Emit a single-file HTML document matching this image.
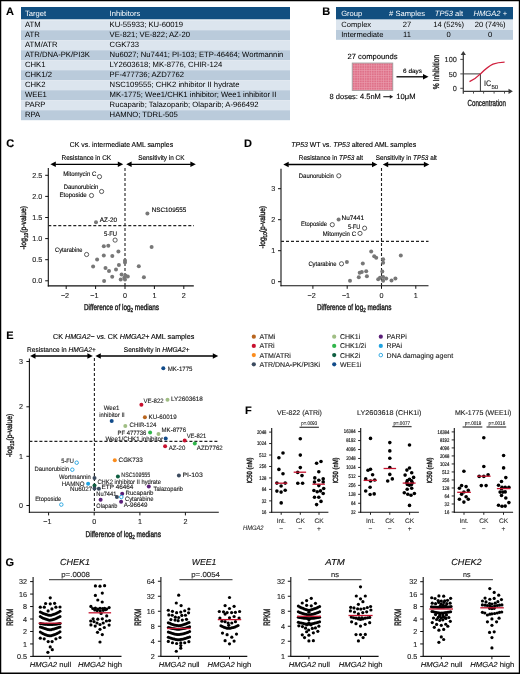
<!DOCTYPE html>
<html><head><meta charset="utf-8"><title>Figure</title>
<style>
html,body{margin:0;padding:0;background:#fff;}
body{width:520px;height:674px;overflow:hidden;}
svg{display:block;font-family:"Liberation Sans",sans-serif;will-change:transform;text-rendering:geometricPrecision;}
</style></head><body>
<svg width="520" height="674" viewBox="0 0 520 674">
<rect x="0" y="0" width="520" height="674" fill="#fff"/>
<text x="6.1" y="14.8" font-size="11" font-weight="bold" stroke="#000" stroke-width="0.12">A</text>
<rect x="21" y="7" width="269" height="12.3" fill="#124f80" />
<text x="25" y="15.7" font-size="7.6" fill="#fff">Target</text>
<text x="109.6" y="15.7" font-size="7.6" fill="#fff">Inhibitors</text>
<rect x="21" y="20.2" width="269" height="10" fill="#dce5ee" />
<text x="25" y="27.4" font-size="7.7">ATM</text>
<text x="109.6" y="27.4" font-size="7.7">KU-55933; KU-60019</text>
<rect x="21" y="30.2" width="269" height="10" fill="#bacbdb" />
<text x="25" y="37.4" font-size="7.7">ATR</text>
<text x="109.6" y="37.4" font-size="7.7">VE-821; VE-822; AZ-20</text>
<rect x="21" y="40.2" width="269" height="10" fill="#dce5ee" />
<text x="25" y="47.4" font-size="7.7">ATM/ATR</text>
<text x="109.6" y="47.4" font-size="7.7">CGK733</text>
<rect x="21" y="50.2" width="269" height="10" fill="#bacbdb" />
<text x="25" y="57.4" font-size="7.7">ATR/DNA-PK/PI3K</text>
<text x="109.6" y="57.4" font-size="7.7">Nu6027; Nu7441; PI-103; ETP-46464; Wortmannin</text>
<rect x="21" y="60.2" width="269" height="10" fill="#dce5ee" />
<text x="25" y="67.4" font-size="7.7">CHK1</text>
<text x="109.6" y="67.4" font-size="7.7">LY2603618; MK-8776, CHIR-124</text>
<rect x="21" y="70.2" width="269" height="10" fill="#bacbdb" />
<text x="25" y="77.4" font-size="7.7">CHK1/2</text>
<text x="109.6" y="77.4" font-size="7.7">PF-477736; AZD7762</text>
<rect x="21" y="80.2" width="269" height="10" fill="#dce5ee" />
<text x="25" y="87.4" font-size="7.7">CHK2</text>
<text x="109.6" y="87.4" font-size="7.7">NSC109555; CHK2 inhibitor II hydrate</text>
<rect x="21" y="90.2" width="269" height="10" fill="#bacbdb" />
<text x="25" y="97.4" font-size="7.7">WEE1</text>
<text x="109.6" y="97.4" font-size="7.7">MK-1775; Wee1/CHK1 inhibitor; Wee1 inhibitor II</text>
<rect x="21" y="100.2" width="269" height="10" fill="#dce5ee" />
<text x="25" y="107.4" font-size="7.7">PARP</text>
<text x="109.6" y="107.4" font-size="7.7">Rucaparib; Talazoparib; Olaparib; A-966492</text>
<rect x="21" y="110.2" width="269" height="10" fill="#bacbdb" />
<text x="25" y="117.4" font-size="7.7">RPA</text>
<text x="109.6" y="117.4" font-size="7.7">HAMNO; TDRL-505</text>
<text x="322.2" y="14.9" font-size="11" font-weight="bold" stroke="#000" stroke-width="0.12">B</text>
<rect x="336" y="7" width="177" height="12.4" fill="#124f80" />
<rect x="336" y="20" width="177" height="10" fill="#dce5ee" />
<rect x="336" y="30" width="177" height="9.8" fill="#bacbdb" />
<text x="341.2" y="15.7" font-size="7.6" fill="#fff">Group</text>
<text x="407" y="15.7" font-size="7.6" text-anchor="middle" fill="#fff"># Samples</text>
<text x="449" y="15.7" font-size="7.6" text-anchor="middle" fill="#fff"><tspan font-style="italic">TP53</tspan><tspan> alt</tspan></text>
<text x="490.3" y="15.7" font-size="7.6" text-anchor="middle" fill="#fff"><tspan font-style="italic">HMGA2</tspan><tspan> +</tspan></text>
<text x="341.2" y="26.9" font-size="7.6">Complex</text>
<text x="407" y="26.9" font-size="7.6" text-anchor="middle">27</text>
<text x="448.6" y="26.9" font-size="7.6" text-anchor="middle">14 (52%)</text>
<text x="490.2" y="26.9" font-size="7.6" text-anchor="middle">20 (74%)</text>
<text x="341.2" y="36.9" font-size="7.6">Intermediate</text>
<text x="407" y="36.9" font-size="7.6" text-anchor="middle">11</text>
<text x="448.6" y="36.9" font-size="7.6" text-anchor="middle">0</text>
<text x="490.2" y="36.9" font-size="7.6" text-anchor="middle">0</text>
<text x="372.5" y="59.4" font-size="7.6" text-anchor="middle" textLength="50" lengthAdjust="spacingAndGlyphs" stroke="#000" stroke-width="0.12">27 compounds</text>
<defs><pattern id="grid" x="352" y="63" width="2.4" height="2.4" patternUnits="userSpaceOnUse"><rect width="2.4" height="2.4" fill="#df7189"/><path d="M0 0.3H2.4M0.3 0V2.4" stroke="#ec9fb0" stroke-width="0.6"/></pattern></defs>
<rect x="352.2" y="63" width="40.6" height="27.4" fill="url(#grid)" stroke="#9a9a9a" stroke-width="0.8"/>
<text x="329.6" y="99" font-size="7.5" textLength="51.2" lengthAdjust="spacingAndGlyphs" stroke="#000" stroke-width="0.12">8 doses: 4.5nM</text>
<line x1="383.3" y1="96.7" x2="390.5" y2="96.7" stroke="#222" stroke-width="1.1"/>
<path d="M393.2 96.7L389.8 94.7L389.8 98.7Z" fill="#222"/>
<text x="396.3" y="99" font-size="7.5" textLength="19.2" lengthAdjust="spacingAndGlyphs" stroke="#000" stroke-width="0.12">10μM</text>
<line x1="396.5" y1="76.8" x2="424" y2="76.8" stroke="#000" stroke-width="1.3"/>
<path d="M428.5 76.8L423 74L423 79.6Z" fill="#000"/>
<text x="412.5" y="73.3" font-size="6.2" text-anchor="middle" textLength="19" lengthAdjust="spacingAndGlyphs" stroke="#000" stroke-width="0.12">6 days</text>
<text x="439" y="72" font-size="8.6" text-anchor="middle" fill="#222" textLength="34.3" lengthAdjust="spacingAndGlyphs" transform="rotate(-90 439 72)" stroke="#222" stroke-width="0.35">% Inhibition</text>
<line x1="463.3" y1="54" x2="463.3" y2="93.7" stroke="#3a3a3a" stroke-width="1.25"/>
<path d="M463.3 51L460.7 55L465.9 55Z" fill="#3a3a3a"/>
<line x1="463.3" y1="91.3" x2="509" y2="91.3" stroke="#3a3a3a" stroke-width="1.25"/>
<path d="M512.9 91.3L508.5 88.7L508.5 93.9Z" fill="#3a3a3a"/>
<line x1="460.3" y1="59.4" x2="463.3" y2="59.4" stroke="#3a3a3a" stroke-width="0.9"/>
<line x1="460.3" y1="73.9" x2="463.3" y2="73.9" stroke="#3a3a3a" stroke-width="0.9"/>
<line x1="460.3" y1="88.3" x2="463.3" y2="88.3" stroke="#3a3a3a" stroke-width="0.9"/>
<line x1="473.5" y1="91.3" x2="473.5" y2="93.6" stroke="#3a3a3a" stroke-width="0.9"/>
<line x1="483.6" y1="91.3" x2="483.6" y2="93.6" stroke="#3a3a3a" stroke-width="0.9"/>
<line x1="494.1" y1="91.3" x2="494.1" y2="93.6" stroke="#3a3a3a" stroke-width="0.9"/>
<line x1="504.5" y1="91.3" x2="504.5" y2="93.6" stroke="#3a3a3a" stroke-width="0.9"/>
<text x="456.8" y="62" font-size="7.3" text-anchor="end" fill="#222" stroke="#222" stroke-width="0.12">100</text>
<text x="456.8" y="76.5" font-size="7.3" text-anchor="end" fill="#222" stroke="#222" stroke-width="0.12">50</text>
<text x="456.8" y="90.9" font-size="7.3" text-anchor="end" fill="#222" stroke="#222" stroke-width="0.12">0</text>
<line x1="463.3" y1="73.9" x2="480.4" y2="73.9" stroke="#3a3a3a" stroke-width="1"/>
<line x1="480.4" y1="73.9" x2="480.4" y2="91.3" stroke="#3a3a3a" stroke-width="1"/>
<path d="M469.5 81.7 C473.5 79.8 477.2 77.2 480.4 73.9 C485 69.5 489 66 493 64.2 C497 62.6 501 62.2 504.6 62.1" fill="none" stroke="#d0203e" stroke-width="1.35"/>
<text x="484" y="85.9" font-size="8" fill="#222" textLength="7.2" lengthAdjust="spacingAndGlyphs" stroke="#222" stroke-width="0.12">IC</text>
<text x="491.4" y="88.9" font-size="5.8" fill="#222" textLength="6.9" lengthAdjust="spacingAndGlyphs" stroke="#222" stroke-width="0.12">50</text>
<text x="486.7" y="106.2" font-size="8.8" text-anchor="middle" fill="#222" textLength="38.4" lengthAdjust="spacingAndGlyphs" stroke="#222" stroke-width="0.35">Concentration</text>
<text x="6.2" y="147.2" font-size="11" font-weight="bold" stroke="#000" stroke-width="0.12">C</text>
<text x="69.8" y="147.1" font-size="7.2" textLength="103.3" lengthAdjust="spacingAndGlyphs" stroke="#000" stroke-width="0.12">CK vs. intermediate AML samples</text>
<text x="61.6" y="159.5" font-size="6.8" textLength="49.6" lengthAdjust="spacingAndGlyphs" stroke="#000" stroke-width="0.12">Resistance in CK</text>
<text x="138.2" y="159.5" font-size="6.8" textLength="46.3" lengthAdjust="spacingAndGlyphs" stroke="#000" stroke-width="0.12">Sensitivity in CK</text>
<line x1="55.3" y1="164.3" x2="118.3" y2="164.3" stroke="#000" stroke-width="1.3"/>
<path d="M50.4 164.3L55.8 161.6L55.8 167Z" fill="#000"/>
<path d="M123.2 164.3L117.8 161.6L117.8 167Z" fill="#000"/>
<line x1="131.1" y1="164.3" x2="190.9" y2="164.3" stroke="#000" stroke-width="1.3"/>
<path d="M126.2 164.3L131.6 161.6L131.6 167Z" fill="#000"/>
<path d="M195.8 164.3L190.4 161.6L190.4 167Z" fill="#000"/>
<line x1="48.3" y1="168" x2="48.3" y2="286.5" stroke="#111" stroke-width="1.1"/>
<line x1="47.8" y1="285.9" x2="193.8" y2="285.9" stroke="#111" stroke-width="1.1"/>
<line x1="45.2" y1="280.8" x2="48.3" y2="280.8" stroke="#111" stroke-width="1"/>
<text x="42.2" y="283.4" font-size="7.2" text-anchor="end" fill="#222" stroke="#222" stroke-width="0.12">0.0</text>
<line x1="45.2" y1="259.7" x2="48.3" y2="259.7" stroke="#111" stroke-width="1"/>
<text x="42.2" y="262.3" font-size="7.2" text-anchor="end" fill="#222" stroke="#222" stroke-width="0.12">0.5</text>
<line x1="45.2" y1="238.6" x2="48.3" y2="238.6" stroke="#111" stroke-width="1"/>
<text x="42.2" y="241.2" font-size="7.2" text-anchor="end" fill="#222" stroke="#222" stroke-width="0.12">1.0</text>
<line x1="45.2" y1="217.5" x2="48.3" y2="217.5" stroke="#111" stroke-width="1"/>
<text x="42.2" y="220.1" font-size="7.2" text-anchor="end" fill="#222" stroke="#222" stroke-width="0.12">1.5</text>
<line x1="45.2" y1="196.4" x2="48.3" y2="196.4" stroke="#111" stroke-width="1"/>
<text x="42.2" y="199" font-size="7.2" text-anchor="end" fill="#222" stroke="#222" stroke-width="0.12">2.0</text>
<line x1="45.2" y1="175.3" x2="48.3" y2="175.3" stroke="#111" stroke-width="1"/>
<text x="42.2" y="177.9" font-size="7.2" text-anchor="end" fill="#222" stroke="#222" stroke-width="0.12">2.5</text>
<line x1="66.2" y1="285.9" x2="66.2" y2="289" stroke="#111" stroke-width="1"/>
<text x="65" y="298.2" font-size="7.2" text-anchor="middle" fill="#222" stroke="#222" stroke-width="0.12">−2</text>
<line x1="95.6" y1="285.9" x2="95.6" y2="289" stroke="#111" stroke-width="1"/>
<text x="94.4" y="298.2" font-size="7.2" text-anchor="middle" fill="#222" stroke="#222" stroke-width="0.12">−1</text>
<line x1="125" y1="285.9" x2="125" y2="289" stroke="#111" stroke-width="1"/>
<text x="125" y="298.2" font-size="7.2" text-anchor="middle" fill="#222" stroke="#222" stroke-width="0.12">0</text>
<line x1="154.4" y1="285.9" x2="154.4" y2="289" stroke="#111" stroke-width="1"/>
<text x="154.4" y="298.2" font-size="7.2" text-anchor="middle" fill="#222" stroke="#222" stroke-width="0.12">1</text>
<line x1="183.8" y1="285.9" x2="183.8" y2="289" stroke="#111" stroke-width="1"/>
<text x="183.8" y="298.2" font-size="7.2" text-anchor="middle" fill="#222" stroke="#222" stroke-width="0.12">2</text>
<text x="84" y="309.8" font-size="8.4" fill="#222" textLength="75" lengthAdjust="spacingAndGlyphs" stroke="#222" stroke-width="0.4"><tspan>Difference of log</tspan><tspan font-size="5.88" dy="2.1">2</tspan><tspan dy="-2.1"> medians</tspan></text>
<text x="26.5" y="227.7" font-size="8" text-anchor="middle" fill="#222" textLength="43.4" lengthAdjust="spacingAndGlyphs" transform="rotate(-90 26.5 227.7)" stroke="#222" stroke-width="0.4"><tspan>-log</tspan><tspan font-size="5.6" dy="2">10</tspan><tspan dy="-2">(p-value)</tspan></text>
<line x1="125" y1="168" x2="125" y2="285.9" stroke="#222" stroke-width="1.1" stroke-dasharray="3,2"/>
<line x1="48.3" y1="225.6" x2="194" y2="225.6" stroke="#222" stroke-width="1.1" stroke-dasharray="3,2"/>
<circle cx="103.8" cy="246.2" r="2" fill="#777"/>
<circle cx="108.3" cy="245.8" r="2" fill="#777"/>
<circle cx="151.6" cy="247.1" r="2" fill="#777"/>
<circle cx="118.4" cy="251.4" r="2" fill="#777"/>
<circle cx="103.8" cy="255.6" r="2" fill="#777"/>
<circle cx="112.3" cy="255.9" r="2" fill="#777"/>
<circle cx="97.1" cy="259.5" r="2" fill="#777"/>
<circle cx="125" cy="260.6" r="2" fill="#777"/>
<circle cx="125" cy="262.6" r="2" fill="#777"/>
<circle cx="93.1" cy="266.6" r="2" fill="#777"/>
<circle cx="118.9" cy="264.9" r="2" fill="#777"/>
<circle cx="138.8" cy="266.2" r="2" fill="#777"/>
<circle cx="105.5" cy="268" r="2" fill="#777"/>
<circle cx="109" cy="270.9" r="2" fill="#777"/>
<circle cx="116" cy="269.5" r="2" fill="#777"/>
<circle cx="121.6" cy="274.4" r="2" fill="#777"/>
<circle cx="112.2" cy="276.7" r="2" fill="#777"/>
<circle cx="127.8" cy="276.5" r="2" fill="#777"/>
<circle cx="124.3" cy="277.8" r="2" fill="#777"/>
<circle cx="143.9" cy="277.3" r="2" fill="#777"/>
<circle cx="120.7" cy="279.4" r="2" fill="#777"/>
<circle cx="125" cy="279.4" r="2" fill="#777"/>
<circle cx="104.1" cy="281" r="2" fill="#777"/>
<circle cx="125.4" cy="275.4" r="2" fill="#777"/>
<circle cx="147.4" cy="213.4" r="2" fill="#777"/>
<circle cx="96" cy="222.3" r="2" fill="#777"/>
<circle cx="99.5" cy="176.7" r="2.1" fill="#fff" stroke="#333" stroke-width="0.8"/>
<circle cx="101.6" cy="191.5" r="2.1" fill="#fff" stroke="#333" stroke-width="0.8"/>
<circle cx="91.5" cy="195.5" r="2.1" fill="#fff" stroke="#333" stroke-width="0.8"/>
<circle cx="115.1" cy="240.1" r="2.1" fill="#fff" stroke="#333" stroke-width="0.8"/>
<circle cx="86.6" cy="254.5" r="2.1" fill="#fff" stroke="#333" stroke-width="0.8"/>
<text x="63.2" y="175.5" font-size="6.4" textLength="33.1" lengthAdjust="spacingAndGlyphs" stroke="#000" stroke-width="0.12">Mitomycin C</text>
<text x="63.7" y="189" font-size="6.4" textLength="34.7" lengthAdjust="spacingAndGlyphs" stroke="#000" stroke-width="0.12">Daunorubicin</text>
<text x="59.4" y="197.3" font-size="6.4" textLength="27.4" lengthAdjust="spacingAndGlyphs" stroke="#000" stroke-width="0.12">Etoposide</text>
<text x="151.7" y="212.1" font-size="6.4" textLength="34.6" lengthAdjust="spacingAndGlyphs" stroke="#000" stroke-width="0.12">NSC109555</text>
<text x="99.8" y="221.6" font-size="6.4" textLength="17.3" lengthAdjust="spacingAndGlyphs" stroke="#000" stroke-width="0.12">AZ-20</text>
<text x="104.1" y="235.8" font-size="6.4" textLength="13" lengthAdjust="spacingAndGlyphs" stroke="#000" stroke-width="0.12">5-FU</text>
<text x="55.1" y="252.2" font-size="6.4" textLength="27.4" lengthAdjust="spacingAndGlyphs" stroke="#000" stroke-width="0.12">Cytarabine</text>
<text x="244.1" y="146.6" font-size="11" font-weight="bold" stroke="#000" stroke-width="0.12">D</text>
<text x="291.3" y="147.3" font-size="7.2" textLength="124.9" lengthAdjust="spacingAndGlyphs" stroke="#000" stroke-width="0.12"><tspan font-style="italic">TP53</tspan><tspan> WT vs. </tspan><tspan font-style="italic">TP53</tspan><tspan> altered AML samples</tspan></text>
<text x="298.8" y="159.5" font-size="6.8" textLength="64.2" lengthAdjust="spacingAndGlyphs" stroke="#000" stroke-width="0.12"><tspan>Resistance in </tspan><tspan font-style="italic">TP53</tspan><tspan> alt</tspan></text>
<text x="375.8" y="159.5" font-size="6.8" textLength="61.1" lengthAdjust="spacingAndGlyphs" stroke="#000" stroke-width="0.12"><tspan>Sensitivity in </tspan><tspan font-style="italic">TP53</tspan><tspan> alt</tspan></text>
<line x1="288.2" y1="164.5" x2="372.5" y2="164.5" stroke="#000" stroke-width="1.3"/>
<path d="M283.3 164.5L288.7 161.8L288.7 167.2Z" fill="#000"/>
<path d="M377.4 164.5L372 161.8L372 167.2Z" fill="#000"/>
<line x1="387.7" y1="164.5" x2="424.4" y2="164.5" stroke="#000" stroke-width="1.3"/>
<path d="M382.8 164.5L388.2 161.8L388.2 167.2Z" fill="#000"/>
<path d="M429.3 164.5L423.9 161.8L423.9 167.2Z" fill="#000"/>
<line x1="281" y1="168.7" x2="281" y2="286.3" stroke="#111" stroke-width="1.1"/>
<line x1="280.5" y1="285.7" x2="428.5" y2="285.7" stroke="#111" stroke-width="1.1"/>
<line x1="278" y1="281.7" x2="281" y2="281.7" stroke="#111" stroke-width="1"/>
<text x="275.2" y="284.3" font-size="7.2" text-anchor="end" fill="#222" stroke="#222" stroke-width="0.12">0</text>
<line x1="278" y1="250.7" x2="281" y2="250.7" stroke="#111" stroke-width="1"/>
<text x="275.2" y="253.3" font-size="7.2" text-anchor="end" fill="#222" stroke="#222" stroke-width="0.12">1</text>
<line x1="278" y1="219.7" x2="281" y2="219.7" stroke="#111" stroke-width="1"/>
<text x="275.2" y="222.3" font-size="7.2" text-anchor="end" fill="#222" stroke="#222" stroke-width="0.12">2</text>
<line x1="278" y1="188.7" x2="281" y2="188.7" stroke="#111" stroke-width="1"/>
<text x="275.2" y="191.3" font-size="7.2" text-anchor="end" fill="#222" stroke="#222" stroke-width="0.12">3</text>
<line x1="312.9" y1="285.7" x2="312.9" y2="288.8" stroke="#111" stroke-width="1"/>
<text x="311.7" y="298.2" font-size="7.2" text-anchor="middle" fill="#222" stroke="#222" stroke-width="0.12">−2</text>
<line x1="347.2" y1="285.7" x2="347.2" y2="288.8" stroke="#111" stroke-width="1"/>
<text x="346" y="298.2" font-size="7.2" text-anchor="middle" fill="#222" stroke="#222" stroke-width="0.12">−1</text>
<line x1="381.5" y1="285.7" x2="381.5" y2="288.8" stroke="#111" stroke-width="1"/>
<text x="381.5" y="298.2" font-size="7.2" text-anchor="middle" fill="#222" stroke="#222" stroke-width="0.12">0</text>
<line x1="415.8" y1="285.7" x2="415.8" y2="288.8" stroke="#111" stroke-width="1"/>
<text x="415.8" y="298.2" font-size="7.2" text-anchor="middle" fill="#222" stroke="#222" stroke-width="0.12">1</text>
<text x="317" y="309.8" font-size="8.4" fill="#222" textLength="74.5" lengthAdjust="spacingAndGlyphs" stroke="#222" stroke-width="0.4"><tspan>Difference of log</tspan><tspan font-size="5.88" dy="2.1">2</tspan><tspan dy="-2.1"> medians</tspan></text>
<text x="264.6" y="227.2" font-size="8" text-anchor="middle" fill="#222" textLength="42.6" lengthAdjust="spacingAndGlyphs" transform="rotate(-90 264.6 227.2)" stroke="#222" stroke-width="0.4"><tspan>-log</tspan><tspan font-size="5.6" dy="2">10</tspan><tspan dy="-2">(p-value)</tspan></text>
<line x1="381.5" y1="168" x2="381.5" y2="285.7" stroke="#222" stroke-width="1.1" stroke-dasharray="3,2"/>
<line x1="281" y1="241.4" x2="428.5" y2="241.4" stroke="#222" stroke-width="1.1" stroke-dasharray="3,2"/>
<circle cx="338.6" cy="219.5" r="2" fill="#777"/>
<circle cx="371.2" cy="251.5" r="2" fill="#777"/>
<circle cx="374.2" cy="256.2" r="2" fill="#777"/>
<circle cx="376.2" cy="257.7" r="2" fill="#777"/>
<circle cx="383.1" cy="259.2" r="2" fill="#777"/>
<circle cx="383.1" cy="262.8" r="2" fill="#777"/>
<circle cx="362.8" cy="263.5" r="2" fill="#777"/>
<circle cx="346.9" cy="262" r="2" fill="#777"/>
<circle cx="359.7" cy="272.8" r="2" fill="#777"/>
<circle cx="361.8" cy="272" r="2" fill="#777"/>
<circle cx="366.2" cy="271.2" r="2" fill="#777"/>
<circle cx="358.8" cy="277.2" r="2" fill="#777"/>
<circle cx="366.9" cy="276.2" r="2" fill="#777"/>
<circle cx="350" cy="280.8" r="2" fill="#777"/>
<circle cx="382.3" cy="271.5" r="2" fill="#777"/>
<circle cx="378.2" cy="279.2" r="2" fill="#777"/>
<circle cx="380" cy="277.7" r="2" fill="#777"/>
<circle cx="383.1" cy="276.9" r="2" fill="#777"/>
<circle cx="383.1" cy="280.8" r="2" fill="#777"/>
<circle cx="386.2" cy="278.5" r="2" fill="#777"/>
<circle cx="391.5" cy="280.5" r="2" fill="#777"/>
<circle cx="395.4" cy="278.5" r="2" fill="#777"/>
<circle cx="400.8" cy="255.4" r="2" fill="#777"/>
<circle cx="338.8" cy="175.8" r="2.1" fill="#fff" stroke="#333" stroke-width="0.8"/>
<circle cx="332.3" cy="224.7" r="2.1" fill="#fff" stroke="#333" stroke-width="0.8"/>
<circle cx="364.6" cy="228.2" r="2.1" fill="#fff" stroke="#333" stroke-width="0.8"/>
<circle cx="360" cy="233.4" r="2.1" fill="#fff" stroke="#333" stroke-width="0.8"/>
<circle cx="341.5" cy="263.8" r="2.1" fill="#fff" stroke="#333" stroke-width="0.8"/>
<text x="298.8" y="178.4" font-size="6.4" textLength="35" lengthAdjust="spacingAndGlyphs" stroke="#000" stroke-width="0.12">Daunorubicin</text>
<text x="341.5" y="219.5" font-size="6.4" textLength="22.5" lengthAdjust="spacingAndGlyphs" stroke="#000" stroke-width="0.12">Nu7441</text>
<text x="301.1" y="226.4" font-size="6.4" textLength="26" lengthAdjust="spacingAndGlyphs" stroke="#000" stroke-width="0.12">Etoposide</text>
<text x="347.9" y="229" font-size="6.4" textLength="12.4" lengthAdjust="spacingAndGlyphs" stroke="#000" stroke-width="0.12">5-FU</text>
<text x="322.8" y="236" font-size="6.4" textLength="33.2" lengthAdjust="spacingAndGlyphs" stroke="#000" stroke-width="0.12">Mitomycin C</text>
<text x="308.4" y="265.6" font-size="6.4" textLength="28.2" lengthAdjust="spacingAndGlyphs" stroke="#000" stroke-width="0.12">Cytarabine</text>
<text x="6.2" y="338.8" font-size="11" font-weight="bold" stroke="#000" stroke-width="0.12">E</text>
<text x="53" y="338.6" font-size="7.2" textLength="141.3" lengthAdjust="spacingAndGlyphs" stroke="#000" stroke-width="0.12"><tspan>CK </tspan><tspan font-style="italic">HMGA2</tspan><tspan>− vs. CK </tspan><tspan font-style="italic">HMGA2</tspan><tspan>+ AML samples</tspan></text>
<text x="27" y="352.4" font-size="6.8" textLength="68.8" lengthAdjust="spacingAndGlyphs" stroke="#000" stroke-width="0.12"><tspan>Resistance in </tspan><tspan font-style="italic">HMGA2</tspan><tspan>+</tspan></text>
<text x="123.8" y="352.4" font-size="6.8" textLength="65.7" lengthAdjust="spacingAndGlyphs" stroke="#000" stroke-width="0.12"><tspan>Sensitivity in </tspan><tspan font-style="italic">HMGA2</tspan><tspan>+</tspan></text>
<line x1="35" y1="356" x2="87.9" y2="356" stroke="#000" stroke-width="1.3"/>
<path d="M30.1 356L35.5 353.3L35.5 358.7Z" fill="#000"/>
<path d="M92.8 356L87.4 353.3L87.4 358.7Z" fill="#000"/>
<line x1="100.3" y1="356" x2="213.3" y2="356" stroke="#000" stroke-width="1.3"/>
<path d="M95.4 356L100.8 353.3L100.8 358.7Z" fill="#000"/>
<path d="M218.2 356L212.8 353.3L212.8 358.7Z" fill="#000"/>
<line x1="29.4" y1="358.4" x2="29.4" y2="512.9" stroke="#111" stroke-width="1.1"/>
<line x1="28.9" y1="512.3" x2="218.8" y2="512.3" stroke="#111" stroke-width="1.1"/>
<line x1="26.4" y1="505.5" x2="29.4" y2="505.5" stroke="#111" stroke-width="1"/>
<text x="23" y="508.1" font-size="7.2" text-anchor="end" fill="#222" stroke="#222" stroke-width="0.12">0</text>
<line x1="26.4" y1="456.3" x2="29.4" y2="456.3" stroke="#111" stroke-width="1"/>
<text x="23" y="458.9" font-size="7.2" text-anchor="end" fill="#222" stroke="#222" stroke-width="0.12">1</text>
<line x1="26.4" y1="406.8" x2="29.4" y2="406.8" stroke="#111" stroke-width="1"/>
<text x="23" y="409.4" font-size="7.2" text-anchor="end" fill="#222" stroke="#222" stroke-width="0.12">2</text>
<line x1="26.4" y1="361.5" x2="29.4" y2="361.5" stroke="#111" stroke-width="1"/>
<text x="23" y="364.1" font-size="7.2" text-anchor="end" fill="#222" stroke="#222" stroke-width="0.12">3</text>
<line x1="48.6" y1="512.3" x2="48.6" y2="515.4" stroke="#111" stroke-width="1"/>
<text x="47.4" y="524.3" font-size="7.2" text-anchor="middle" fill="#222" stroke="#222" stroke-width="0.12">−1</text>
<line x1="94.2" y1="512.3" x2="94.2" y2="515.4" stroke="#111" stroke-width="1"/>
<text x="94.2" y="524.3" font-size="7.2" text-anchor="middle" fill="#222" stroke="#222" stroke-width="0.12">0</text>
<line x1="139.9" y1="512.3" x2="139.9" y2="515.4" stroke="#111" stroke-width="1"/>
<text x="139.9" y="524.3" font-size="7.2" text-anchor="middle" fill="#222" stroke="#222" stroke-width="0.12">1</text>
<line x1="185.4" y1="512.3" x2="185.4" y2="515.4" stroke="#111" stroke-width="1"/>
<text x="185.4" y="524.3" font-size="7.2" text-anchor="middle" fill="#222" stroke="#222" stroke-width="0.12">2</text>
<text x="85.6" y="536.8" font-size="8.4" fill="#222" textLength="75.3" lengthAdjust="spacingAndGlyphs" stroke="#222" stroke-width="0.4"><tspan>Difference of log</tspan><tspan font-size="5.88" dy="2.1">2</tspan><tspan dy="-2.1"> medians</tspan></text>
<text x="11.8" y="435.5" font-size="8" text-anchor="middle" fill="#222" textLength="43.4" lengthAdjust="spacingAndGlyphs" transform="rotate(-90 11.8 435.5)" stroke="#222" stroke-width="0.4"><tspan>-log</tspan><tspan font-size="5.6" dy="2">10</tspan><tspan dy="-2">(p-value)</tspan></text>
<line x1="94.4" y1="358" x2="94.4" y2="512.3" stroke="#222" stroke-width="1.1" stroke-dasharray="3,2"/>
<line x1="29.4" y1="441.4" x2="218.8" y2="441.4" stroke="#222" stroke-width="1.1" stroke-dasharray="3,2"/>
<circle cx="163.3" cy="368.3" r="2" fill="#114b8a"/>
<circle cx="141.4" cy="404.8" r="2" fill="#c8102e"/>
<circle cx="167.5" cy="399.8" r="2" fill="#a0be84"/>
<circle cx="111.7" cy="421" r="2" fill="#114b8a"/>
<circle cx="144.9" cy="417.2" r="2" fill="#b8651e"/>
<circle cx="125.3" cy="426.1" r="2" fill="#a0be84"/>
<circle cx="150.1" cy="432.5" r="2" fill="#30b64b"/>
<circle cx="158.5" cy="433.9" r="2" fill="#a0be84"/>
<circle cx="165.7" cy="438.6" r="2" fill="#114b8a"/>
<circle cx="184.7" cy="440.6" r="2" fill="#c8102e"/>
<circle cx="194.8" cy="443.5" r="2" fill="#30b64b"/>
<circle cx="165.1" cy="446.3" r="2" fill="#c8102e"/>
<circle cx="114.8" cy="460.2" r="2" fill="#fb8c1c"/>
<circle cx="117.9" cy="476.4" r="2" fill="#0e5e40"/>
<circle cx="178.9" cy="475.4" r="2" fill="#3b4a5e"/>
<circle cx="76.7" cy="462.7" r="1.75" fill="#fff" stroke="#1fa2e0" stroke-width="0.9"/>
<circle cx="72.3" cy="469.7" r="1.75" fill="#fff" stroke="#1fa2e0" stroke-width="0.9"/>
<circle cx="94.5" cy="478.1" r="2" fill="#3b4a5e"/>
<circle cx="88.1" cy="483.8" r="2" fill="#1fa2e0"/>
<circle cx="94.5" cy="485.6" r="2" fill="#0e5e40"/>
<circle cx="94.5" cy="488.4" r="2" fill="#3b4a5e"/>
<circle cx="98.9" cy="488.7" r="2" fill="#3b4a5e"/>
<circle cx="148.8" cy="486.4" r="2" fill="#5a1e78"/>
<circle cx="122.2" cy="493.8" r="2" fill="#5a1e78"/>
<circle cx="116.9" cy="497" r="2" fill="#3b4a5e"/>
<circle cx="121.3" cy="497" r="1.75" fill="#fff" stroke="#1fa2e0" stroke-width="0.9"/>
<circle cx="100.6" cy="499.7" r="2" fill="#5a1e78"/>
<circle cx="121.1" cy="501.8" r="2" fill="#5a1e78"/>
<circle cx="61.3" cy="504.6" r="1.75" fill="#fff" stroke="#1fa2e0" stroke-width="0.9"/>
<text x="167.7" y="370.5" font-size="6.3" fill="#222" textLength="24.8" lengthAdjust="spacingAndGlyphs" stroke="#222" stroke-width="0.12">MK-1775</text>
<text x="143.5" y="403" font-size="6.3" fill="#222" textLength="20.1" lengthAdjust="spacingAndGlyphs" stroke="#222" stroke-width="0.12">VE-822</text>
<text x="170.9" y="401.1" font-size="6.3" fill="#222" textLength="32" lengthAdjust="spacingAndGlyphs" stroke="#222" stroke-width="0.12">LY2603618</text>
<text x="148.6" y="419.4" font-size="6.3" fill="#222" textLength="28" lengthAdjust="spacingAndGlyphs" stroke="#222" stroke-width="0.12">KU-60019</text>
<text x="129.6" y="427" font-size="6.3" fill="#222" textLength="26.8" lengthAdjust="spacingAndGlyphs" stroke="#222" stroke-width="0.12">CHIR-124</text>
<text x="117.5" y="434.8" font-size="6.3" fill="#222" textLength="28.8" lengthAdjust="spacingAndGlyphs" stroke="#222" stroke-width="0.12">PF 477736</text>
<text x="161.6" y="431.9" font-size="6.3" fill="#222" textLength="24.5" lengthAdjust="spacingAndGlyphs" stroke="#222" stroke-width="0.12">MK-8776</text>
<text x="105.4" y="440.6" font-size="6.3" fill="#222" textLength="57.7" lengthAdjust="spacingAndGlyphs" stroke="#222" stroke-width="0.12">Wee1/CHK1 inhibitor</text>
<text x="186.7" y="438.3" font-size="6.3" fill="#222" textLength="19.6" lengthAdjust="spacingAndGlyphs" stroke="#222" stroke-width="0.12">VE-821</text>
<text x="196.8" y="450" font-size="6.3" fill="#222" textLength="26" lengthAdjust="spacingAndGlyphs" stroke="#222" stroke-width="0.12">AZD7762</text>
<text x="168.8" y="449.5" font-size="6.3" fill="#222" textLength="16.5" lengthAdjust="spacingAndGlyphs" stroke="#222" stroke-width="0.12">AZ-20</text>
<text x="118.6" y="461.8" font-size="6.3" fill="#222" textLength="24.3" lengthAdjust="spacingAndGlyphs" stroke="#222" stroke-width="0.12">CGK733</text>
<text x="121.3" y="477" font-size="6.3" fill="#222" textLength="29" lengthAdjust="spacingAndGlyphs" stroke="#222" stroke-width="0.12">NSC109555</text>
<text x="182.4" y="477.3" font-size="6.3" fill="#222" textLength="20.4" lengthAdjust="spacingAndGlyphs" stroke="#222" stroke-width="0.12">PI-103</text>
<text x="61.3" y="462.9" font-size="6.3" fill="#222" textLength="12.6" lengthAdjust="spacingAndGlyphs" stroke="#222" stroke-width="0.12">5-FU</text>
<text x="34.4" y="471.3" font-size="6.3" fill="#222" textLength="34.7" lengthAdjust="spacingAndGlyphs" stroke="#222" stroke-width="0.12">Daunorubicin</text>
<text x="59.1" y="479.2" font-size="6.3" fill="#222" textLength="31.8" lengthAdjust="spacingAndGlyphs" stroke="#222" stroke-width="0.12">Wortmannin</text>
<text x="61.7" y="485.5" font-size="6.3" fill="#222" textLength="22.8" lengthAdjust="spacingAndGlyphs" stroke="#222" stroke-width="0.12">HAMNO</text>
<text x="97.4" y="484" font-size="6.3" fill="#222" textLength="63.5" lengthAdjust="spacingAndGlyphs" stroke="#222" stroke-width="0.12">CHK2 inhibitor II hydrate</text>
<text x="70.1" y="491.4" font-size="6.3" fill="#222" textLength="22.2" lengthAdjust="spacingAndGlyphs" stroke="#222" stroke-width="0.12">Nu6027</text>
<text x="101.6" y="489.3" font-size="6.3" fill="#222" textLength="31.8" lengthAdjust="spacingAndGlyphs" stroke="#222" stroke-width="0.12">ETP 46464</text>
<text x="153.5" y="490.8" font-size="6.3" fill="#222" textLength="29.6" lengthAdjust="spacingAndGlyphs" stroke="#222" stroke-width="0.12">Talazoparib</text>
<text x="125.5" y="494.6" font-size="6.3" fill="#222" textLength="28" lengthAdjust="spacingAndGlyphs" stroke="#222" stroke-width="0.12">Rucaparib</text>
<text x="96.3" y="495.7" font-size="6.3" fill="#222" textLength="20.1" lengthAdjust="spacingAndGlyphs" stroke="#222" stroke-width="0.12">Nu7441</text>
<text x="124.9" y="501" font-size="6.3" fill="#222" textLength="28.6" lengthAdjust="spacingAndGlyphs" stroke="#222" stroke-width="0.12">Cytarabine</text>
<text x="96.3" y="508.3" font-size="6.3" fill="#222" textLength="21.2" lengthAdjust="spacingAndGlyphs" stroke="#222" stroke-width="0.12">Olaparib</text>
<text x="123.8" y="507.3" font-size="6.3" fill="#222" textLength="23.7" lengthAdjust="spacingAndGlyphs" stroke="#222" stroke-width="0.12">A-96649</text>
<text x="35.2" y="501.2" font-size="6.3" fill="#222" textLength="26.1" lengthAdjust="spacingAndGlyphs" stroke="#222" stroke-width="0.12">Etoposide</text>
<text x="103.7" y="410" font-size="6.3" fill="#222" textLength="15.8" lengthAdjust="spacingAndGlyphs" stroke="#222" stroke-width="0.12">Wee1</text>
<text x="99.3" y="416.9" font-size="6.3" fill="#222" textLength="25.4" lengthAdjust="spacingAndGlyphs" stroke="#222" stroke-width="0.12">inhibitor II</text>
<circle cx="253.8" cy="336.7" r="2.1" fill="#b8651e"/>
<text x="259.6" y="339.2" font-size="7" fill="#222" stroke="#222" stroke-width="0.12">ATMi</text>
<circle cx="253.8" cy="345.9" r="2.1" fill="#c8102e"/>
<text x="259.6" y="348.4" font-size="7" fill="#222" stroke="#222" stroke-width="0.12">ATRi</text>
<circle cx="253.8" cy="355.1" r="2.1" fill="#fb8c1c"/>
<text x="259.6" y="357.6" font-size="7" fill="#222" stroke="#222" stroke-width="0.12">ATM/ATRi</text>
<circle cx="253.8" cy="364.3" r="2.1" fill="#3b4a5e"/>
<text x="259.6" y="366.8" font-size="7" fill="#222" stroke="#222" stroke-width="0.12">ATR/DNA-PK/PI3Ki</text>
<circle cx="334.2" cy="336.7" r="2.1" fill="#a0be84"/>
<text x="340" y="339.2" font-size="7" fill="#222" stroke="#222" stroke-width="0.12">CHK1i</text>
<circle cx="334.2" cy="345.9" r="2.1" fill="#30b64b"/>
<text x="340" y="348.4" font-size="7" fill="#222" stroke="#222" stroke-width="0.12">CHK1/2i</text>
<circle cx="334.2" cy="355.1" r="2.1" fill="#0e5e40"/>
<text x="340" y="357.6" font-size="7" fill="#222" stroke="#222" stroke-width="0.12">CHK2i</text>
<circle cx="334.2" cy="364.3" r="2.1" fill="#114b8a"/>
<text x="340" y="366.8" font-size="7" fill="#222" stroke="#222" stroke-width="0.12">WEE1i</text>
<circle cx="380.8" cy="336.7" r="2.1" fill="#5a1e78"/>
<text x="386.6" y="339.2" font-size="7" fill="#222" stroke="#222" stroke-width="0.12">PARPi</text>
<circle cx="380.8" cy="345.9" r="2.1" fill="#1fa2e0"/>
<text x="386.6" y="348.4" font-size="7" fill="#222" stroke="#222" stroke-width="0.12">RPAi</text>
<circle cx="380.8" cy="355.1" r="1.8" fill="#fff" stroke="#1fa2e0" stroke-width="0.9"/>
<text x="386.6" y="357.6" font-size="7" fill="#222" stroke="#222" stroke-width="0.12">DNA damaging agent</text>
<text x="245" y="413.9" font-size="11" font-weight="bold" stroke="#000" stroke-width="0.12">F</text>
<text x="276.9" y="414.5" font-size="7" fill="#222" textLength="45" lengthAdjust="spacingAndGlyphs" stroke="#222" stroke-width="0.12">VE-822 (ATRi)</text>
<line x1="271.7" y1="428" x2="271.7" y2="512.8" stroke="#111" stroke-width="1.1"/>
<line x1="271.2" y1="512.3" x2="328.4" y2="512.3" stroke="#111" stroke-width="1.1"/>
<line x1="269.1" y1="432.1" x2="271.7" y2="432.1" stroke="#111" stroke-width="0.9"/>
<text x="266.4" y="433.9" font-size="5.4" text-anchor="end" fill="#222" textLength="9.4" lengthAdjust="spacingAndGlyphs" stroke="#222" stroke-width="0.2">2048</text>
<line x1="269.1" y1="443.56" x2="271.7" y2="443.56" stroke="#111" stroke-width="0.9"/>
<text x="266.4" y="445.36" font-size="5.4" text-anchor="end" fill="#222" textLength="9.4" lengthAdjust="spacingAndGlyphs" stroke="#222" stroke-width="0.2">1024</text>
<line x1="269.1" y1="455.02" x2="271.7" y2="455.02" stroke="#111" stroke-width="0.9"/>
<text x="266.4" y="456.82" font-size="5.4" text-anchor="end" fill="#222" textLength="7.05" lengthAdjust="spacingAndGlyphs" stroke="#222" stroke-width="0.2">512</text>
<line x1="269.1" y1="466.48" x2="271.7" y2="466.48" stroke="#111" stroke-width="0.9"/>
<text x="266.4" y="468.28" font-size="5.4" text-anchor="end" fill="#222" textLength="7.05" lengthAdjust="spacingAndGlyphs" stroke="#222" stroke-width="0.2">256</text>
<line x1="269.1" y1="477.94" x2="271.7" y2="477.94" stroke="#111" stroke-width="0.9"/>
<text x="266.4" y="479.74" font-size="5.4" text-anchor="end" fill="#222" textLength="7.05" lengthAdjust="spacingAndGlyphs" stroke="#222" stroke-width="0.2">128</text>
<line x1="269.1" y1="489.4" x2="271.7" y2="489.4" stroke="#111" stroke-width="0.9"/>
<text x="266.4" y="491.2" font-size="5.4" text-anchor="end" fill="#222" textLength="4.7" lengthAdjust="spacingAndGlyphs" stroke="#222" stroke-width="0.2">64</text>
<line x1="269.1" y1="500.86" x2="271.7" y2="500.86" stroke="#111" stroke-width="0.9"/>
<text x="266.4" y="502.66" font-size="5.4" text-anchor="end" fill="#222" textLength="4.7" lengthAdjust="spacingAndGlyphs" stroke="#222" stroke-width="0.2">32</text>
<line x1="269.1" y1="512.32" x2="271.7" y2="512.32" stroke="#111" stroke-width="0.9"/>
<text x="266.4" y="514.12" font-size="5.4" text-anchor="end" fill="#222" textLength="4.7" lengthAdjust="spacingAndGlyphs" stroke="#222" stroke-width="0.2">16</text>
<line x1="281.2" y1="512.3" x2="281.2" y2="514.8" stroke="#111" stroke-width="0.9"/>
<line x1="300.3" y1="512.3" x2="300.3" y2="514.8" stroke="#111" stroke-width="0.9"/>
<line x1="319" y1="512.3" x2="319" y2="514.8" stroke="#111" stroke-width="0.9"/>
<text x="281.2" y="523.4" font-size="6.6" text-anchor="middle" fill="#333" stroke="#333" stroke-width="0.12">Int.</text>
<text x="300.3" y="523.4" font-size="6.6" text-anchor="middle" fill="#333" stroke="#333" stroke-width="0.12">CK</text>
<text x="319" y="523.4" font-size="6.6" text-anchor="middle" fill="#333" stroke="#333" stroke-width="0.12">CK</text>
<text x="281.2" y="530.8" font-size="6.6" text-anchor="middle" fill="#333" stroke="#333" stroke-width="0.12">−</text>
<text x="300.3" y="530.8" font-size="6.6" text-anchor="middle" fill="#333" stroke="#333" stroke-width="0.12">−</text>
<text x="319" y="530.8" font-size="6.6" text-anchor="middle" fill="#333" stroke="#333" stroke-width="0.12">+</text>
<circle cx="283" cy="453" r="1.8" fill="#000"/>
<circle cx="278.9" cy="457.8" r="1.8" fill="#000"/>
<circle cx="278.9" cy="469.4" r="1.8" fill="#000"/>
<circle cx="283" cy="473.8" r="1.8" fill="#000"/>
<circle cx="281.1" cy="486" r="1.8" fill="#000"/>
<circle cx="276.9" cy="491.1" r="1.8" fill="#000"/>
<circle cx="281.1" cy="492.1" r="1.8" fill="#000"/>
<circle cx="285.2" cy="490.3" r="1.8" fill="#000"/>
<circle cx="281.2" cy="502.9" r="1.8" fill="#000"/>
<circle cx="276.9" cy="483.1" r="1.8" fill="#000"/>
<circle cx="285.2" cy="483.1" r="1.8" fill="#000"/>
<circle cx="300.3" cy="438.7" r="1.8" fill="#000"/>
<circle cx="300.3" cy="455.1" r="1.8" fill="#000"/>
<circle cx="300.3" cy="467.6" r="1.8" fill="#000"/>
<circle cx="297.7" cy="472.4" r="1.8" fill="#000"/>
<circle cx="302" cy="475.6" r="1.8" fill="#000"/>
<circle cx="297.8" cy="483.3" r="1.8" fill="#000"/>
<circle cx="302.6" cy="483.3" r="1.8" fill="#000"/>
<circle cx="316.6" cy="463.3" r="1.8" fill="#000"/>
<circle cx="321" cy="461.5" r="1.8" fill="#000"/>
<circle cx="318.8" cy="471.7" r="1.8" fill="#000"/>
<circle cx="314.8" cy="477.9" r="1.8" fill="#000"/>
<circle cx="318.8" cy="480.3" r="1.8" fill="#000"/>
<circle cx="323.2" cy="478.7" r="1.8" fill="#000"/>
<circle cx="314.5" cy="482.1" r="1.8" fill="#000"/>
<circle cx="323.2" cy="481.9" r="1.8" fill="#000"/>
<circle cx="318.8" cy="485.6" r="1.8" fill="#000"/>
<circle cx="323.7" cy="488.5" r="1.8" fill="#000"/>
<circle cx="313.9" cy="490.5" r="1.8" fill="#000"/>
<circle cx="317.2" cy="491.7" r="1.8" fill="#000"/>
<circle cx="320.5" cy="490.9" r="1.8" fill="#000"/>
<circle cx="323.2" cy="493.5" r="1.8" fill="#000"/>
<circle cx="314.5" cy="497.3" r="1.8" fill="#000"/>
<circle cx="318.8" cy="497.3" r="1.8" fill="#000"/>
<circle cx="321" cy="501.4" r="1.8" fill="#000"/>
<circle cx="316.6" cy="504.6" r="1.8" fill="#000"/>
<line x1="275" y1="483.2" x2="287.4" y2="483.2" stroke="#c4142f" stroke-width="1.3"/>
<line x1="293.7" y1="472.2" x2="306.1" y2="472.2" stroke="#c4142f" stroke-width="1.3"/>
<line x1="312.4" y1="484.2" x2="324.9" y2="484.2" stroke="#c4142f" stroke-width="1.3"/>
<text x="301.2" y="425.3" font-size="5.4" fill="#222" textLength="16.1" lengthAdjust="spacingAndGlyphs" stroke="#222" stroke-width="0.12">p=.0093</text>
<line x1="299.5" y1="427.3" x2="318.9" y2="427.3" stroke="#484848" stroke-width="1.3"/>
<text x="251.8" y="470.5" font-size="7.4" text-anchor="middle" fill="#111" textLength="26" lengthAdjust="spacingAndGlyphs" transform="rotate(-90 251.8 470.5)" stroke="#111" stroke-width="0.35">IC50 (nM)</text>
<text x="357" y="414.5" font-size="7" fill="#222" textLength="64.4" lengthAdjust="spacingAndGlyphs" stroke="#222" stroke-width="0.12">LY2603618 (CHK1i)</text>
<line x1="360.7" y1="428" x2="360.7" y2="512.8" stroke="#111" stroke-width="1.1"/>
<line x1="360.2" y1="512.3" x2="418.9" y2="512.3" stroke="#111" stroke-width="1.1"/>
<line x1="358.1" y1="431.6" x2="360.7" y2="431.6" stroke="#111" stroke-width="0.9"/>
<text x="355.6" y="433.4" font-size="5.4" text-anchor="end" fill="#222" textLength="11.75" lengthAdjust="spacingAndGlyphs" stroke="#222" stroke-width="0.2">16384</text>
<line x1="358.1" y1="440.56" x2="360.7" y2="440.56" stroke="#111" stroke-width="0.9"/>
<text x="355.6" y="442.36" font-size="5.4" text-anchor="end" fill="#222" textLength="9.4" lengthAdjust="spacingAndGlyphs" stroke="#222" stroke-width="0.2">8192</text>
<line x1="358.1" y1="449.52" x2="360.7" y2="449.52" stroke="#111" stroke-width="0.9"/>
<text x="355.6" y="451.32" font-size="5.4" text-anchor="end" fill="#222" textLength="9.4" lengthAdjust="spacingAndGlyphs" stroke="#222" stroke-width="0.2">4096</text>
<line x1="358.1" y1="458.48" x2="360.7" y2="458.48" stroke="#111" stroke-width="0.9"/>
<text x="355.6" y="460.28" font-size="5.4" text-anchor="end" fill="#222" textLength="9.4" lengthAdjust="spacingAndGlyphs" stroke="#222" stroke-width="0.2">2048</text>
<line x1="358.1" y1="467.44" x2="360.7" y2="467.44" stroke="#111" stroke-width="0.9"/>
<text x="355.6" y="469.24" font-size="5.4" text-anchor="end" fill="#222" textLength="9.4" lengthAdjust="spacingAndGlyphs" stroke="#222" stroke-width="0.2">1024</text>
<line x1="358.1" y1="476.4" x2="360.7" y2="476.4" stroke="#111" stroke-width="0.9"/>
<text x="355.6" y="478.2" font-size="5.4" text-anchor="end" fill="#222" textLength="7.05" lengthAdjust="spacingAndGlyphs" stroke="#222" stroke-width="0.2">512</text>
<line x1="358.1" y1="485.36" x2="360.7" y2="485.36" stroke="#111" stroke-width="0.9"/>
<text x="355.6" y="487.16" font-size="5.4" text-anchor="end" fill="#222" textLength="7.05" lengthAdjust="spacingAndGlyphs" stroke="#222" stroke-width="0.2">256</text>
<line x1="358.1" y1="494.32" x2="360.7" y2="494.32" stroke="#111" stroke-width="0.9"/>
<text x="355.6" y="496.12" font-size="5.4" text-anchor="end" fill="#222" textLength="7.05" lengthAdjust="spacingAndGlyphs" stroke="#222" stroke-width="0.2">128</text>
<line x1="358.1" y1="503.28" x2="360.7" y2="503.28" stroke="#111" stroke-width="0.9"/>
<text x="355.6" y="505.08" font-size="5.4" text-anchor="end" fill="#222" textLength="4.7" lengthAdjust="spacingAndGlyphs" stroke="#222" stroke-width="0.2">64</text>
<line x1="358.1" y1="512.24" x2="360.7" y2="512.24" stroke="#111" stroke-width="0.9"/>
<text x="355.6" y="514.04" font-size="5.4" text-anchor="end" fill="#222" textLength="4.7" lengthAdjust="spacingAndGlyphs" stroke="#222" stroke-width="0.2">32</text>
<line x1="370.5" y1="512.3" x2="370.5" y2="514.8" stroke="#111" stroke-width="0.9"/>
<line x1="389.8" y1="512.3" x2="389.8" y2="514.8" stroke="#111" stroke-width="0.9"/>
<line x1="409.6" y1="512.3" x2="409.6" y2="514.8" stroke="#111" stroke-width="0.9"/>
<text x="370.5" y="523.4" font-size="6.6" text-anchor="middle" fill="#333" stroke="#333" stroke-width="0.12">Int.</text>
<text x="389.8" y="523.4" font-size="6.6" text-anchor="middle" fill="#333" stroke="#333" stroke-width="0.12">CK</text>
<text x="409.6" y="523.4" font-size="6.6" text-anchor="middle" fill="#333" stroke="#333" stroke-width="0.12">CK</text>
<text x="370.5" y="530.8" font-size="6.6" text-anchor="middle" fill="#333" stroke="#333" stroke-width="0.12">−</text>
<text x="389.8" y="530.8" font-size="6.6" text-anchor="middle" fill="#333" stroke="#333" stroke-width="0.12">−</text>
<text x="409.6" y="530.8" font-size="6.6" text-anchor="middle" fill="#333" stroke="#333" stroke-width="0.12">+</text>
<circle cx="370.5" cy="438.4" r="1.8" fill="#000"/>
<circle cx="368" cy="470.2" r="1.8" fill="#000"/>
<circle cx="370.5" cy="469.2" r="1.8" fill="#000"/>
<circle cx="372.6" cy="474.8" r="1.8" fill="#000"/>
<circle cx="365.7" cy="478.9" r="1.8" fill="#000"/>
<circle cx="370.5" cy="481" r="1.8" fill="#000"/>
<circle cx="374.7" cy="480" r="1.8" fill="#000"/>
<circle cx="370.1" cy="487.2" r="1.8" fill="#000"/>
<circle cx="365.7" cy="491" r="1.8" fill="#000"/>
<circle cx="370.1" cy="494.5" r="1.8" fill="#000"/>
<circle cx="374.2" cy="493.9" r="1.8" fill="#000"/>
<circle cx="389.8" cy="442.6" r="1.8" fill="#000"/>
<circle cx="389.8" cy="450.9" r="1.8" fill="#000"/>
<circle cx="389.8" cy="458.2" r="1.8" fill="#000"/>
<circle cx="389.8" cy="467.5" r="1.8" fill="#000"/>
<circle cx="389.8" cy="474.4" r="1.8" fill="#000"/>
<circle cx="387.7" cy="481" r="1.8" fill="#000"/>
<circle cx="392.3" cy="478.9" r="1.8" fill="#000"/>
<circle cx="409.5" cy="445" r="1.8" fill="#000"/>
<circle cx="409.5" cy="468" r="1.8" fill="#000"/>
<circle cx="406.9" cy="470.1" r="1.8" fill="#000"/>
<circle cx="411.7" cy="472.7" r="1.8" fill="#000"/>
<circle cx="405.1" cy="475.1" r="1.8" fill="#000"/>
<circle cx="413.6" cy="477.4" r="1.8" fill="#000"/>
<circle cx="407.4" cy="480.5" r="1.8" fill="#000"/>
<circle cx="409.5" cy="479.3" r="1.8" fill="#000"/>
<circle cx="411.5" cy="480.7" r="1.8" fill="#000"/>
<circle cx="412.3" cy="482.6" r="1.8" fill="#000"/>
<circle cx="411.5" cy="484.6" r="1.8" fill="#000"/>
<circle cx="409.5" cy="485.3" r="1.8" fill="#000"/>
<circle cx="407.4" cy="484.4" r="1.8" fill="#000"/>
<circle cx="406.7" cy="482.6" r="1.8" fill="#000"/>
<circle cx="407.2" cy="489.3" r="1.8" fill="#000"/>
<circle cx="411.7" cy="488.3" r="1.8" fill="#000"/>
<circle cx="404.3" cy="492.8" r="1.8" fill="#000"/>
<circle cx="407.8" cy="494.2" r="1.8" fill="#000"/>
<circle cx="411" cy="495.3" r="1.8" fill="#000"/>
<circle cx="414.4" cy="493.5" r="1.8" fill="#000"/>
<circle cx="409.5" cy="505.4" r="1.8" fill="#000"/>
<line x1="363.6" y1="480.4" x2="376.9" y2="480.4" stroke="#c4142f" stroke-width="1.3"/>
<line x1="383.6" y1="468.5" x2="396.1" y2="468.5" stroke="#c4142f" stroke-width="1.3"/>
<line x1="402.7" y1="483.1" x2="415.6" y2="483.1" stroke="#c4142f" stroke-width="1.3"/>
<text x="393.4" y="424.6" font-size="5.4" fill="#222" textLength="16.6" lengthAdjust="spacingAndGlyphs" stroke="#222" stroke-width="0.12">p=.0077</text>
<line x1="392.3" y1="426.6" x2="411.6" y2="426.6" stroke="#484848" stroke-width="1.3"/>
<text x="337.6" y="470.5" font-size="7.4" text-anchor="middle" fill="#111" textLength="26" lengthAdjust="spacingAndGlyphs" transform="rotate(-90 337.6 470.5)" stroke="#111" stroke-width="0.35">IC50 (nM)</text>
<text x="454.9" y="414.5" font-size="7" fill="#222" textLength="56.5" lengthAdjust="spacingAndGlyphs" stroke="#222" stroke-width="0.12">MK-1775 (WEE1i)</text>
<line x1="454.3" y1="428" x2="454.3" y2="512.8" stroke="#111" stroke-width="1.1"/>
<line x1="453.8" y1="512.3" x2="513.1" y2="512.3" stroke="#111" stroke-width="1.1"/>
<line x1="451.7" y1="431.9" x2="454.3" y2="431.9" stroke="#111" stroke-width="0.9"/>
<text x="449.3" y="433.7" font-size="5.4" text-anchor="end" fill="#222" textLength="11.75" lengthAdjust="spacingAndGlyphs" stroke="#222" stroke-width="0.2">16384</text>
<line x1="451.7" y1="439.91" x2="454.3" y2="439.91" stroke="#111" stroke-width="0.9"/>
<text x="449.3" y="441.71" font-size="5.4" text-anchor="end" fill="#222" textLength="9.4" lengthAdjust="spacingAndGlyphs" stroke="#222" stroke-width="0.2">8192</text>
<line x1="451.7" y1="447.92" x2="454.3" y2="447.92" stroke="#111" stroke-width="0.9"/>
<text x="449.3" y="449.72" font-size="5.4" text-anchor="end" fill="#222" textLength="9.4" lengthAdjust="spacingAndGlyphs" stroke="#222" stroke-width="0.2">4096</text>
<line x1="451.7" y1="455.93" x2="454.3" y2="455.93" stroke="#111" stroke-width="0.9"/>
<text x="449.3" y="457.73" font-size="5.4" text-anchor="end" fill="#222" textLength="9.4" lengthAdjust="spacingAndGlyphs" stroke="#222" stroke-width="0.2">2048</text>
<line x1="451.7" y1="463.94" x2="454.3" y2="463.94" stroke="#111" stroke-width="0.9"/>
<text x="449.3" y="465.74" font-size="5.4" text-anchor="end" fill="#222" textLength="9.4" lengthAdjust="spacingAndGlyphs" stroke="#222" stroke-width="0.2">1024</text>
<line x1="451.7" y1="471.95" x2="454.3" y2="471.95" stroke="#111" stroke-width="0.9"/>
<text x="449.3" y="473.75" font-size="5.4" text-anchor="end" fill="#222" textLength="7.05" lengthAdjust="spacingAndGlyphs" stroke="#222" stroke-width="0.2">512</text>
<line x1="451.7" y1="479.96" x2="454.3" y2="479.96" stroke="#111" stroke-width="0.9"/>
<text x="449.3" y="481.76" font-size="5.4" text-anchor="end" fill="#222" textLength="7.05" lengthAdjust="spacingAndGlyphs" stroke="#222" stroke-width="0.2">256</text>
<line x1="451.7" y1="487.97" x2="454.3" y2="487.97" stroke="#111" stroke-width="0.9"/>
<text x="449.3" y="489.77" font-size="5.4" text-anchor="end" fill="#222" textLength="7.05" lengthAdjust="spacingAndGlyphs" stroke="#222" stroke-width="0.2">128</text>
<line x1="451.7" y1="495.98" x2="454.3" y2="495.98" stroke="#111" stroke-width="0.9"/>
<text x="449.3" y="497.78" font-size="5.4" text-anchor="end" fill="#222" textLength="4.7" lengthAdjust="spacingAndGlyphs" stroke="#222" stroke-width="0.2">64</text>
<line x1="451.7" y1="503.99" x2="454.3" y2="503.99" stroke="#111" stroke-width="0.9"/>
<text x="449.3" y="505.79" font-size="5.4" text-anchor="end" fill="#222" textLength="4.7" lengthAdjust="spacingAndGlyphs" stroke="#222" stroke-width="0.2">32</text>
<line x1="451.7" y1="512" x2="454.3" y2="512" stroke="#111" stroke-width="0.9"/>
<text x="449.3" y="513.8" font-size="5.4" text-anchor="end" fill="#222" textLength="4.7" lengthAdjust="spacingAndGlyphs" stroke="#222" stroke-width="0.2">16</text>
<line x1="464" y1="512.3" x2="464" y2="514.8" stroke="#111" stroke-width="0.9"/>
<line x1="483.8" y1="512.3" x2="483.8" y2="514.8" stroke="#111" stroke-width="0.9"/>
<line x1="503.5" y1="512.3" x2="503.5" y2="514.8" stroke="#111" stroke-width="0.9"/>
<text x="464" y="523.4" font-size="6.6" text-anchor="middle" fill="#333" stroke="#333" stroke-width="0.12">Int.</text>
<text x="483.8" y="523.4" font-size="6.6" text-anchor="middle" fill="#333" stroke="#333" stroke-width="0.12">CK</text>
<text x="503.5" y="523.4" font-size="6.6" text-anchor="middle" fill="#333" stroke="#333" stroke-width="0.12">CK</text>
<text x="464" y="530.8" font-size="6.6" text-anchor="middle" fill="#333" stroke="#333" stroke-width="0.12">−</text>
<text x="483.8" y="530.8" font-size="6.6" text-anchor="middle" fill="#333" stroke="#333" stroke-width="0.12">−</text>
<text x="503.5" y="530.8" font-size="6.6" text-anchor="middle" fill="#333" stroke="#333" stroke-width="0.12">+</text>
<circle cx="463.9" cy="471.3" r="1.8" fill="#000"/>
<circle cx="461.6" cy="485.6" r="1.8" fill="#000"/>
<circle cx="459.4" cy="488.2" r="1.8" fill="#000"/>
<circle cx="466.1" cy="486.6" r="1.8" fill="#000"/>
<circle cx="468.3" cy="490.4" r="1.8" fill="#000"/>
<circle cx="463.9" cy="492" r="1.8" fill="#000"/>
<circle cx="461.6" cy="494.3" r="1.8" fill="#000"/>
<circle cx="466.1" cy="496.7" r="1.8" fill="#000"/>
<circle cx="459.4" cy="499.2" r="1.8" fill="#000"/>
<circle cx="468.3" cy="499.3" r="1.8" fill="#000"/>
<circle cx="463.9" cy="502.1" r="1.8" fill="#000"/>
<circle cx="483.8" cy="437.8" r="1.8" fill="#000"/>
<circle cx="483.8" cy="466.5" r="1.8" fill="#000"/>
<circle cx="479.2" cy="476.4" r="1.8" fill="#000"/>
<circle cx="483.8" cy="476.4" r="1.8" fill="#000"/>
<circle cx="488.1" cy="474.8" r="1.8" fill="#000"/>
<circle cx="481.3" cy="485.6" r="1.8" fill="#000"/>
<circle cx="486.1" cy="485.6" r="1.8" fill="#000"/>
<circle cx="503.6" cy="455.5" r="1.8" fill="#000"/>
<circle cx="503.6" cy="467.9" r="1.8" fill="#000"/>
<circle cx="505.8" cy="477.6" r="1.8" fill="#000"/>
<circle cx="501.5" cy="481.5" r="1.8" fill="#000"/>
<circle cx="498.5" cy="485.2" r="1.8" fill="#000"/>
<circle cx="502" cy="487.3" r="1.8" fill="#000"/>
<circle cx="505.2" cy="487.3" r="1.8" fill="#000"/>
<circle cx="508.9" cy="487.3" r="1.8" fill="#000"/>
<circle cx="501.5" cy="488.8" r="1.8" fill="#000"/>
<circle cx="500.1" cy="492.1" r="1.8" fill="#000"/>
<circle cx="502.9" cy="492.1" r="1.8" fill="#000"/>
<circle cx="505.2" cy="491.9" r="1.8" fill="#000"/>
<circle cx="501.5" cy="495.5" r="1.8" fill="#000"/>
<circle cx="505.8" cy="498" r="1.8" fill="#000"/>
<circle cx="508.9" cy="502.6" r="1.8" fill="#000"/>
<circle cx="498.5" cy="505.2" r="1.8" fill="#000"/>
<circle cx="502" cy="506.3" r="1.8" fill="#000"/>
<circle cx="505.2" cy="506.1" r="1.8" fill="#000"/>
<line x1="457.2" y1="492.3" x2="470.9" y2="492.3" stroke="#c4142f" stroke-width="1.3"/>
<line x1="477.1" y1="476.2" x2="490.6" y2="476.2" stroke="#c4142f" stroke-width="1.3"/>
<line x1="496.9" y1="488.6" x2="510.4" y2="488.6" stroke="#c4142f" stroke-width="1.3"/>
<text x="464.7" y="425" font-size="5.4" fill="#222" textLength="16.6" lengthAdjust="spacingAndGlyphs" stroke="#222" stroke-width="0.12">p=.0019</text>
<line x1="462.6" y1="427" x2="482.3" y2="427" stroke="#484848" stroke-width="1.3"/>
<text x="488.6" y="425" font-size="5.4" fill="#222" textLength="16.6" lengthAdjust="spacingAndGlyphs" stroke="#222" stroke-width="0.12">p=.0016</text>
<line x1="486.5" y1="427" x2="506.2" y2="427" stroke="#484848" stroke-width="1.3"/>
<text x="431.5" y="470.5" font-size="7.4" text-anchor="middle" fill="#111" textLength="26" lengthAdjust="spacingAndGlyphs" transform="rotate(-90 431.5 470.5)" stroke="#111" stroke-width="0.35">IC50 (nM)</text>
<text x="243" y="530.3" font-size="6.4" fill="#333" font-style="italic" textLength="20.5" lengthAdjust="spacingAndGlyphs" stroke="#333" stroke-width="0.12">HMGA2</text>
<text x="5.5" y="566.3" font-size="11" font-weight="bold" stroke="#000" stroke-width="0.12">G</text>
<text x="60" y="565" font-size="8.8" fill="#111" font-style="italic" textLength="30" lengthAdjust="spacingAndGlyphs" stroke="#111" stroke-width="0.12">CHEK1</text>
<text x="61.2" y="576.9" font-size="7.3" fill="#222" textLength="28.8" lengthAdjust="spacingAndGlyphs" stroke="#222" stroke-width="0.12">p=.0008</text>
<line x1="49" y1="579.6" x2="102.1" y2="579.6" stroke="#555" stroke-width="1.3"/>
<line x1="33.1" y1="577" x2="33.1" y2="656.8" stroke="#111" stroke-width="1.1"/>
<line x1="32.6" y1="656.4" x2="121.5" y2="656.4" stroke="#111" stroke-width="1.1"/>
<line x1="30.1" y1="581.6" x2="33.1" y2="581.6" stroke="#111" stroke-width="1"/>
<text x="26.9" y="584.2" font-size="7.2" text-anchor="end" fill="#222" stroke="#222" stroke-width="0.12">32</text>
<line x1="30.1" y1="594.07" x2="33.1" y2="594.07" stroke="#111" stroke-width="1"/>
<text x="26.9" y="596.67" font-size="7.2" text-anchor="end" fill="#222" stroke="#222" stroke-width="0.12">16</text>
<line x1="30.1" y1="606.54" x2="33.1" y2="606.54" stroke="#111" stroke-width="1"/>
<text x="26.9" y="609.14" font-size="7.2" text-anchor="end" fill="#222" stroke="#222" stroke-width="0.12">8</text>
<line x1="30.1" y1="619.01" x2="33.1" y2="619.01" stroke="#111" stroke-width="1"/>
<text x="26.9" y="621.61" font-size="7.2" text-anchor="end" fill="#222" stroke="#222" stroke-width="0.12">4</text>
<line x1="30.1" y1="631.48" x2="33.1" y2="631.48" stroke="#111" stroke-width="1"/>
<text x="26.9" y="634.08" font-size="7.2" text-anchor="end" fill="#222" stroke="#222" stroke-width="0.12">2</text>
<line x1="30.1" y1="643.95" x2="33.1" y2="643.95" stroke="#111" stroke-width="1"/>
<text x="26.9" y="646.55" font-size="7.2" text-anchor="end" fill="#222" stroke="#222" stroke-width="0.12">1</text>
<line x1="30.1" y1="656.42" x2="33.1" y2="656.42" stroke="#111" stroke-width="1"/>
<text x="26.9" y="659.02" font-size="7.2" text-anchor="end" fill="#222" stroke="#222" stroke-width="0.12">0.5</text>
<line x1="49.8" y1="656.2" x2="49.8" y2="659.2" stroke="#111" stroke-width="1"/>
<line x1="100" y1="656.2" x2="100" y2="659.2" stroke="#111" stroke-width="1"/>
<text x="29.8" y="667.3" font-size="7.3" fill="#111" textLength="41.4" lengthAdjust="spacingAndGlyphs" stroke="#111" stroke-width="0.12"><tspan font-style="italic">HMGA2</tspan><tspan> null</tspan></text>
<text x="77.9" y="667.3" font-size="7.3" fill="#111" textLength="44.2" lengthAdjust="spacingAndGlyphs" stroke="#111" stroke-width="0.12"><tspan font-style="italic">HMGA2</tspan><tspan> high</tspan></text>
<text x="12.8" y="617.3" font-size="9.3" text-anchor="middle" fill="#111" textLength="17" lengthAdjust="spacingAndGlyphs" transform="rotate(-90 12.8 617.3)" stroke="#111" stroke-width="0.4">RPKM</text>
<circle cx="40.3" cy="611.9" r="1.5" fill="#000"/>
<circle cx="41.82" cy="612.69" r="1.5" fill="#000"/>
<circle cx="43.33" cy="613.4" r="1.5" fill="#000"/>
<circle cx="44.85" cy="614.02" r="1.5" fill="#000"/>
<circle cx="46.36" cy="614.54" r="1.5" fill="#000"/>
<circle cx="47.88" cy="614.98" r="1.5" fill="#000"/>
<circle cx="49.39" cy="615.32" r="1.5" fill="#000"/>
<circle cx="50.91" cy="615.15" r="1.5" fill="#000"/>
<circle cx="52.42" cy="614.73" r="1.5" fill="#000"/>
<circle cx="53.94" cy="614.23" r="1.5" fill="#000"/>
<circle cx="55.45" cy="613.63" r="1.5" fill="#000"/>
<circle cx="56.97" cy="612.94" r="1.5" fill="#000"/>
<circle cx="58.48" cy="612.17" r="1.5" fill="#000"/>
<circle cx="60" cy="611.3" r="1.5" fill="#000"/>
<circle cx="40.3" cy="616.6" r="1.5" fill="#000"/>
<circle cx="41.82" cy="617.42" r="1.5" fill="#000"/>
<circle cx="43.33" cy="618.16" r="1.5" fill="#000"/>
<circle cx="44.85" cy="618.81" r="1.5" fill="#000"/>
<circle cx="46.36" cy="619.36" r="1.5" fill="#000"/>
<circle cx="47.88" cy="619.83" r="1.5" fill="#000"/>
<circle cx="49.39" cy="620.21" r="1.5" fill="#000"/>
<circle cx="50.91" cy="620.08" r="1.5" fill="#000"/>
<circle cx="52.42" cy="619.71" r="1.5" fill="#000"/>
<circle cx="53.94" cy="619.24" r="1.5" fill="#000"/>
<circle cx="55.45" cy="618.69" r="1.5" fill="#000"/>
<circle cx="56.97" cy="618.05" r="1.5" fill="#000"/>
<circle cx="58.48" cy="617.32" r="1.5" fill="#000"/>
<circle cx="60" cy="616.5" r="1.5" fill="#000"/>
<circle cx="40.3" cy="623.6" r="1.5" fill="#000"/>
<circle cx="41.82" cy="623.82" r="1.5" fill="#000"/>
<circle cx="43.33" cy="624.02" r="1.5" fill="#000"/>
<circle cx="44.85" cy="624.19" r="1.5" fill="#000"/>
<circle cx="46.36" cy="624.35" r="1.5" fill="#000"/>
<circle cx="47.88" cy="624.47" r="1.5" fill="#000"/>
<circle cx="49.39" cy="624.58" r="1.5" fill="#000"/>
<circle cx="50.91" cy="624.54" r="1.5" fill="#000"/>
<circle cx="52.42" cy="624.45" r="1.5" fill="#000"/>
<circle cx="53.94" cy="624.32" r="1.5" fill="#000"/>
<circle cx="55.45" cy="624.18" r="1.5" fill="#000"/>
<circle cx="56.97" cy="624.01" r="1.5" fill="#000"/>
<circle cx="58.48" cy="623.82" r="1.5" fill="#000"/>
<circle cx="60" cy="623.6" r="1.5" fill="#000"/>
<circle cx="40.3" cy="626.9" r="1.5" fill="#000"/>
<circle cx="41.82" cy="627.54" r="1.5" fill="#000"/>
<circle cx="43.33" cy="628.12" r="1.5" fill="#000"/>
<circle cx="44.85" cy="628.62" r="1.5" fill="#000"/>
<circle cx="46.36" cy="629.06" r="1.5" fill="#000"/>
<circle cx="47.88" cy="629.43" r="1.5" fill="#000"/>
<circle cx="49.39" cy="629.73" r="1.5" fill="#000"/>
<circle cx="50.91" cy="629.64" r="1.5" fill="#000"/>
<circle cx="52.42" cy="629.35" r="1.5" fill="#000"/>
<circle cx="53.94" cy="629" r="1.5" fill="#000"/>
<circle cx="55.45" cy="628.58" r="1.5" fill="#000"/>
<circle cx="56.97" cy="628.09" r="1.5" fill="#000"/>
<circle cx="58.48" cy="627.53" r="1.5" fill="#000"/>
<circle cx="60" cy="626.9" r="1.5" fill="#000"/>
<circle cx="40.3" cy="632.1" r="1.5" fill="#000"/>
<circle cx="41.82" cy="632.95" r="1.5" fill="#000"/>
<circle cx="43.33" cy="633.71" r="1.5" fill="#000"/>
<circle cx="44.85" cy="634.38" r="1.5" fill="#000"/>
<circle cx="46.36" cy="634.95" r="1.5" fill="#000"/>
<circle cx="47.88" cy="635.43" r="1.5" fill="#000"/>
<circle cx="49.39" cy="635.81" r="1.5" fill="#000"/>
<circle cx="50.91" cy="635.66" r="1.5" fill="#000"/>
<circle cx="52.42" cy="635.25" r="1.5" fill="#000"/>
<circle cx="53.94" cy="634.75" r="1.5" fill="#000"/>
<circle cx="55.45" cy="634.15" r="1.5" fill="#000"/>
<circle cx="56.97" cy="633.46" r="1.5" fill="#000"/>
<circle cx="58.48" cy="632.68" r="1.5" fill="#000"/>
<circle cx="60" cy="631.8" r="1.5" fill="#000"/>
<circle cx="50.25" cy="597.8" r="1.6" fill="#000"/>
<circle cx="45.6" cy="603.5" r="1.6" fill="#000"/>
<circle cx="50.25" cy="603.8" r="1.6" fill="#000"/>
<circle cx="54.6" cy="603.3" r="1.6" fill="#000"/>
<circle cx="40.3" cy="607.2" r="1.6" fill="#000"/>
<circle cx="44.3" cy="607.2" r="1.6" fill="#000"/>
<circle cx="55.9" cy="607.2" r="1.6" fill="#000"/>
<circle cx="60" cy="607" r="1.6" fill="#000"/>
<circle cx="51.9" cy="608.9" r="1.6" fill="#000"/>
<circle cx="48.1" cy="610.9" r="1.6" fill="#000"/>
<circle cx="40.3" cy="638.2" r="1.6" fill="#000"/>
<circle cx="44.2" cy="638.8" r="1.6" fill="#000"/>
<circle cx="48.2" cy="641.6" r="1.6" fill="#000"/>
<circle cx="52.1" cy="641.6" r="1.6" fill="#000"/>
<circle cx="55.9" cy="638.8" r="1.6" fill="#000"/>
<circle cx="60" cy="637.5" r="1.6" fill="#000"/>
<circle cx="50.25" cy="646.9" r="1.6" fill="#000"/>
<circle cx="52.3" cy="649.7" r="1.6" fill="#000"/>
<circle cx="47.9" cy="652.3" r="1.6" fill="#000"/>
<circle cx="95.4" cy="585.9" r="1.6" fill="#000"/>
<circle cx="100" cy="586.2" r="1.6" fill="#000"/>
<circle cx="104.6" cy="585.7" r="1.6" fill="#000"/>
<circle cx="102.3" cy="593.1" r="1.6" fill="#000"/>
<circle cx="95.4" cy="595.4" r="1.6" fill="#000"/>
<circle cx="97.8" cy="600" r="1.6" fill="#000"/>
<circle cx="102.2" cy="602" r="1.6" fill="#000"/>
<circle cx="90.9" cy="606.4" r="1.6" fill="#000"/>
<circle cx="92.8" cy="608.5" r="1.6" fill="#000"/>
<circle cx="95.4" cy="608.1" r="1.6" fill="#000"/>
<circle cx="97.8" cy="609.1" r="1.6" fill="#000"/>
<circle cx="100" cy="608.3" r="1.6" fill="#000"/>
<circle cx="102.6" cy="608.5" r="1.6" fill="#000"/>
<circle cx="104.6" cy="608.3" r="1.6" fill="#000"/>
<circle cx="106.7" cy="609.1" r="1.6" fill="#000"/>
<circle cx="109.1" cy="607.6" r="1.6" fill="#000"/>
<circle cx="94.8" cy="609.9" r="1.6" fill="#000"/>
<circle cx="97.2" cy="610.6" r="1.6" fill="#000"/>
<circle cx="100.2" cy="611.1" r="1.6" fill="#000"/>
<circle cx="103.2" cy="610.3" r="1.6" fill="#000"/>
<circle cx="105.5" cy="609.7" r="1.6" fill="#000"/>
<circle cx="101.1" cy="613.5" r="1.6" fill="#000"/>
<circle cx="106.7" cy="615.9" r="1.6" fill="#000"/>
<circle cx="93.1" cy="618.8" r="1.6" fill="#000"/>
<circle cx="97.8" cy="619.2" r="1.6" fill="#000"/>
<circle cx="102.3" cy="618.8" r="1.6" fill="#000"/>
<circle cx="90.7" cy="621" r="1.6" fill="#000"/>
<circle cx="94" cy="621.6" r="1.6" fill="#000"/>
<circle cx="106.4" cy="621" r="1.6" fill="#000"/>
<circle cx="109.5" cy="620.6" r="1.6" fill="#000"/>
<circle cx="97" cy="623" r="1.6" fill="#000"/>
<circle cx="100" cy="624.5" r="1.6" fill="#000"/>
<circle cx="103.2" cy="623" r="1.6" fill="#000"/>
<circle cx="90.9" cy="624.9" r="1.6" fill="#000"/>
<circle cx="95.2" cy="626.1" r="1.6" fill="#000"/>
<circle cx="109.1" cy="625.1" r="1.6" fill="#000"/>
<circle cx="100" cy="629.3" r="1.6" fill="#000"/>
<circle cx="104.3" cy="627.5" r="1.6" fill="#000"/>
<circle cx="97.5" cy="632.3" r="1.6" fill="#000"/>
<circle cx="102.3" cy="634.6" r="1.6" fill="#000"/>
<circle cx="100" cy="642" r="1.6" fill="#000"/>
<line x1="38.6" y1="623.2" x2="61.7" y2="623.2" stroke="#c4142f" stroke-width="1.3"/>
<line x1="88.6" y1="612.8" x2="111.1" y2="612.8" stroke="#c4142f" stroke-width="1.3"/>
<text x="191.7" y="565" font-size="8.8" fill="#111" font-style="italic" textLength="24.6" lengthAdjust="spacingAndGlyphs" stroke="#111" stroke-width="0.12">WEE1</text>
<text x="191.2" y="576.9" font-size="7.3" fill="#222" textLength="28.8" lengthAdjust="spacingAndGlyphs" stroke="#222" stroke-width="0.12">p=.0054</text>
<line x1="179.4" y1="579.6" x2="232.5" y2="579.6" stroke="#555" stroke-width="1.3"/>
<line x1="160.9" y1="577" x2="160.9" y2="656.8" stroke="#111" stroke-width="1.1"/>
<line x1="160.4" y1="656.4" x2="247.3" y2="656.4" stroke="#111" stroke-width="1.1"/>
<line x1="157.9" y1="581.25" x2="160.9" y2="581.25" stroke="#111" stroke-width="1"/>
<text x="154.7" y="583.85" font-size="7.2" text-anchor="end" fill="#222" stroke="#222" stroke-width="0.12">64</text>
<line x1="157.9" y1="596.25" x2="160.9" y2="596.25" stroke="#111" stroke-width="1"/>
<text x="154.7" y="598.85" font-size="7.2" text-anchor="end" fill="#222" stroke="#222" stroke-width="0.12">32</text>
<line x1="157.9" y1="611.25" x2="160.9" y2="611.25" stroke="#111" stroke-width="1"/>
<text x="154.7" y="613.85" font-size="7.2" text-anchor="end" fill="#222" stroke="#222" stroke-width="0.12">16</text>
<line x1="157.9" y1="626.25" x2="160.9" y2="626.25" stroke="#111" stroke-width="1"/>
<text x="154.7" y="628.85" font-size="7.2" text-anchor="end" fill="#222" stroke="#222" stroke-width="0.12">8</text>
<line x1="157.9" y1="641.25" x2="160.9" y2="641.25" stroke="#111" stroke-width="1"/>
<text x="154.7" y="643.85" font-size="7.2" text-anchor="end" fill="#222" stroke="#222" stroke-width="0.12">4</text>
<line x1="157.9" y1="656.25" x2="160.9" y2="656.25" stroke="#111" stroke-width="1"/>
<text x="154.7" y="658.85" font-size="7.2" text-anchor="end" fill="#222" stroke="#222" stroke-width="0.12">2</text>
<line x1="178.7" y1="656.2" x2="178.7" y2="659.2" stroke="#111" stroke-width="1"/>
<line x1="229.5" y1="656.2" x2="229.5" y2="659.2" stroke="#111" stroke-width="1"/>
<text x="158.8" y="667.3" font-size="7.3" fill="#111" textLength="40.7" lengthAdjust="spacingAndGlyphs" stroke="#111" stroke-width="0.12"><tspan font-style="italic">HMGA2</tspan><tspan> null</tspan></text>
<text x="207.5" y="667.3" font-size="7.3" fill="#111" textLength="43.8" lengthAdjust="spacingAndGlyphs" stroke="#111" stroke-width="0.12"><tspan font-style="italic">HMGA2</tspan><tspan> high</tspan></text>
<text x="140.8" y="617.3" font-size="9.3" text-anchor="middle" fill="#111" textLength="17" lengthAdjust="spacingAndGlyphs" transform="rotate(-90 140.8 617.3)" stroke="#111" stroke-width="0.4">RPKM</text>
<circle cx="168.31" cy="622.71" r="1.5" fill="#000"/>
<circle cx="169.79" cy="623.36" r="1.5" fill="#000"/>
<circle cx="171.27" cy="623.93" r="1.5" fill="#000"/>
<circle cx="172.76" cy="624.45" r="1.5" fill="#000"/>
<circle cx="174.24" cy="624.89" r="1.5" fill="#000"/>
<circle cx="175.72" cy="625.27" r="1.5" fill="#000"/>
<circle cx="177.21" cy="625.58" r="1.5" fill="#000"/>
<circle cx="178.69" cy="625.83" r="1.5" fill="#000"/>
<circle cx="180.18" cy="625.54" r="1.5" fill="#000"/>
<circle cx="181.66" cy="625.18" r="1.5" fill="#000"/>
<circle cx="183.14" cy="624.76" r="1.5" fill="#000"/>
<circle cx="184.63" cy="624.27" r="1.5" fill="#000"/>
<circle cx="186.11" cy="623.71" r="1.5" fill="#000"/>
<circle cx="187.59" cy="623.09" r="1.5" fill="#000"/>
<circle cx="189.08" cy="622.4" r="1.5" fill="#000"/>
<circle cx="168.31" cy="627.38" r="1.5" fill="#000"/>
<circle cx="169.83" cy="627.78" r="1.5" fill="#000"/>
<circle cx="171.35" cy="628.14" r="1.5" fill="#000"/>
<circle cx="172.87" cy="628.45" r="1.5" fill="#000"/>
<circle cx="174.39" cy="628.72" r="1.5" fill="#000"/>
<circle cx="175.91" cy="628.95" r="1.5" fill="#000"/>
<circle cx="177.43" cy="629.13" r="1.5" fill="#000"/>
<circle cx="178.95" cy="629.22" r="1.5" fill="#000"/>
<circle cx="180.47" cy="629.01" r="1.5" fill="#000"/>
<circle cx="181.99" cy="628.76" r="1.5" fill="#000"/>
<circle cx="183.51" cy="628.47" r="1.5" fill="#000"/>
<circle cx="185.03" cy="628.13" r="1.5" fill="#000"/>
<circle cx="186.55" cy="627.75" r="1.5" fill="#000"/>
<circle cx="188.07" cy="627.33" r="1.5" fill="#000"/>
<circle cx="189.6" cy="626.86" r="1.5" fill="#000"/>
<circle cx="168.31" cy="632.06" r="1.5" fill="#000"/>
<circle cx="169.83" cy="632.61" r="1.5" fill="#000"/>
<circle cx="171.35" cy="633.1" r="1.5" fill="#000"/>
<circle cx="172.87" cy="633.53" r="1.5" fill="#000"/>
<circle cx="174.39" cy="633.91" r="1.5" fill="#000"/>
<circle cx="175.91" cy="634.22" r="1.5" fill="#000"/>
<circle cx="177.43" cy="634.48" r="1.5" fill="#000"/>
<circle cx="178.95" cy="634.61" r="1.5" fill="#000"/>
<circle cx="180.47" cy="634.35" r="1.5" fill="#000"/>
<circle cx="181.99" cy="634.02" r="1.5" fill="#000"/>
<circle cx="183.51" cy="633.64" r="1.5" fill="#000"/>
<circle cx="185.03" cy="633.2" r="1.5" fill="#000"/>
<circle cx="186.55" cy="632.71" r="1.5" fill="#000"/>
<circle cx="188.07" cy="632.15" r="1.5" fill="#000"/>
<circle cx="189.6" cy="631.54" r="1.5" fill="#000"/>
<circle cx="168.31" cy="637.25" r="1.5" fill="#000"/>
<circle cx="169.83" cy="637.79" r="1.5" fill="#000"/>
<circle cx="171.35" cy="638.28" r="1.5" fill="#000"/>
<circle cx="172.87" cy="638.71" r="1.5" fill="#000"/>
<circle cx="174.39" cy="639.09" r="1.5" fill="#000"/>
<circle cx="175.91" cy="639.41" r="1.5" fill="#000"/>
<circle cx="177.43" cy="639.67" r="1.5" fill="#000"/>
<circle cx="178.95" cy="639.81" r="1.5" fill="#000"/>
<circle cx="180.47" cy="639.57" r="1.5" fill="#000"/>
<circle cx="181.99" cy="639.27" r="1.5" fill="#000"/>
<circle cx="183.51" cy="638.91" r="1.5" fill="#000"/>
<circle cx="185.03" cy="638.5" r="1.5" fill="#000"/>
<circle cx="186.55" cy="638.04" r="1.5" fill="#000"/>
<circle cx="188.07" cy="637.52" r="1.5" fill="#000"/>
<circle cx="189.6" cy="636.94" r="1.5" fill="#000"/>
<circle cx="220.9" cy="625.83" r="1.5" fill="#000"/>
<circle cx="222.46" cy="626.55" r="1.5" fill="#000"/>
<circle cx="224.02" cy="627.18" r="1.5" fill="#000"/>
<circle cx="225.58" cy="627.72" r="1.5" fill="#000"/>
<circle cx="227.13" cy="628.17" r="1.5" fill="#000"/>
<circle cx="228.69" cy="628.36" r="1.5" fill="#000"/>
<circle cx="230.25" cy="628.13" r="1.5" fill="#000"/>
<circle cx="231.81" cy="627.81" r="1.5" fill="#000"/>
<circle cx="233.36" cy="627.4" r="1.5" fill="#000"/>
<circle cx="234.92" cy="626.9" r="1.5" fill="#000"/>
<circle cx="236.48" cy="626.3" r="1.5" fill="#000"/>
<circle cx="238.04" cy="625.62" r="1.5" fill="#000"/>
<circle cx="178.7" cy="595.2" r="1.6" fill="#000"/>
<circle cx="176.3" cy="603" r="1.6" fill="#000"/>
<circle cx="181.1" cy="605.6" r="1.6" fill="#000"/>
<circle cx="168.31" cy="610.25" r="1.6" fill="#000"/>
<circle cx="172.46" cy="611.29" r="1.6" fill="#000"/>
<circle cx="176.61" cy="612.64" r="1.6" fill="#000"/>
<circle cx="180.77" cy="612.12" r="1.6" fill="#000"/>
<circle cx="184.71" cy="610.77" r="1.6" fill="#000"/>
<circle cx="188.87" cy="609" r="1.6" fill="#000"/>
<circle cx="168.83" cy="614.92" r="1.6" fill="#000"/>
<circle cx="172.25" cy="615.23" r="1.6" fill="#000"/>
<circle cx="175.37" cy="617.21" r="1.6" fill="#000"/>
<circle cx="178.69" cy="617.52" r="1.6" fill="#000"/>
<circle cx="181.81" cy="615.44" r="1.6" fill="#000"/>
<circle cx="185.44" cy="615.23" r="1.6" fill="#000"/>
<circle cx="188.56" cy="612.85" r="1.6" fill="#000"/>
<circle cx="170.9" cy="619.6" r="1.6" fill="#000"/>
<circle cx="175.06" cy="620.11" r="1.6" fill="#000"/>
<circle cx="178.17" cy="620.63" r="1.6" fill="#000"/>
<circle cx="182.33" cy="620.11" r="1.6" fill="#000"/>
<circle cx="186.48" cy="619.28" r="1.6" fill="#000"/>
<circle cx="168.31" cy="641.4" r="1.6" fill="#000"/>
<circle cx="172.46" cy="642.75" r="1.6" fill="#000"/>
<circle cx="176.61" cy="643.48" r="1.6" fill="#000"/>
<circle cx="180.77" cy="642.96" r="1.6" fill="#000"/>
<circle cx="184.71" cy="642.75" r="1.6" fill="#000"/>
<circle cx="188.87" cy="641.71" r="1.6" fill="#000"/>
<circle cx="180.77" cy="645.56" r="1.6" fill="#000"/>
<circle cx="180.77" cy="648.15" r="1.6" fill="#000"/>
<circle cx="176.3" cy="651.27" r="1.6" fill="#000"/>
<circle cx="229.5" cy="597.5" r="1.6" fill="#000"/>
<circle cx="225.1" cy="605.6" r="1.6" fill="#000"/>
<circle cx="234.1" cy="606.3" r="1.6" fill="#000"/>
<circle cx="229.5" cy="608.5" r="1.6" fill="#000"/>
<circle cx="219.3" cy="611.5" r="1.6" fill="#000"/>
<circle cx="223.5" cy="611.8" r="1.6" fill="#000"/>
<circle cx="227.1" cy="612.6" r="1.6" fill="#000"/>
<circle cx="231.6" cy="612.6" r="1.6" fill="#000"/>
<circle cx="235.4" cy="612.3" r="1.6" fill="#000"/>
<circle cx="239.6" cy="611.5" r="1.6" fill="#000"/>
<circle cx="225.1" cy="614.1" r="1.6" fill="#000"/>
<circle cx="234.1" cy="616.5" r="1.6" fill="#000"/>
<circle cx="219.9" cy="618" r="1.6" fill="#000"/>
<circle cx="229.5" cy="617.8" r="1.6" fill="#000"/>
<circle cx="239.1" cy="618" r="1.6" fill="#000"/>
<circle cx="221.9" cy="621.2" r="1.6" fill="#000"/>
<circle cx="222.5" cy="633.1" r="1.6" fill="#000"/>
<circle cx="227.1" cy="634.7" r="1.6" fill="#000"/>
<circle cx="231.8" cy="637.2" r="1.6" fill="#000"/>
<circle cx="236.5" cy="634.1" r="1.6" fill="#000"/>
<circle cx="225.1" cy="640.7" r="1.6" fill="#000"/>
<circle cx="229.5" cy="643.8" r="1.6" fill="#000"/>
<circle cx="234.1" cy="641.1" r="1.6" fill="#000"/>
<circle cx="225.06" cy="621.67" r="1.6" fill="#000"/>
<circle cx="228.17" cy="623.02" r="1.6" fill="#000"/>
<circle cx="231.81" cy="623.02" r="1.6" fill="#000"/>
<circle cx="235.44" cy="621.67" r="1.6" fill="#000"/>
<circle cx="228.69" cy="625.31" r="1.6" fill="#000"/>
<line x1="167" y1="628.5" x2="190.6" y2="628.5" stroke="#c4142f" stroke-width="1.3"/>
<line x1="217.8" y1="619.6" x2="241.2" y2="619.6" stroke="#c4142f" stroke-width="1.3"/>
<text x="325.2" y="565" font-size="8.8" fill="#111" font-style="italic" textLength="19.6" lengthAdjust="spacingAndGlyphs" stroke="#111" stroke-width="0.12">ATM</text>
<text x="331" y="576.9" font-size="7.3" fill="#222" textLength="8" lengthAdjust="spacingAndGlyphs" stroke="#222" stroke-width="0.12">ns</text>
<line x1="308.2" y1="579.6" x2="361.5" y2="579.6" stroke="#555" stroke-width="1.3"/>
<line x1="290.8" y1="577" x2="290.8" y2="656.8" stroke="#111" stroke-width="1.1"/>
<line x1="290.3" y1="656.4" x2="378.6" y2="656.4" stroke="#111" stroke-width="1.1"/>
<line x1="287.8" y1="581.25" x2="290.8" y2="581.25" stroke="#111" stroke-width="1"/>
<text x="285" y="583.85" font-size="7.2" text-anchor="end" fill="#222" stroke="#222" stroke-width="0.12">32</text>
<line x1="287.8" y1="596.25" x2="290.8" y2="596.25" stroke="#111" stroke-width="1"/>
<text x="285" y="598.85" font-size="7.2" text-anchor="end" fill="#222" stroke="#222" stroke-width="0.12">16</text>
<line x1="287.8" y1="611.25" x2="290.8" y2="611.25" stroke="#111" stroke-width="1"/>
<text x="285" y="613.85" font-size="7.2" text-anchor="end" fill="#222" stroke="#222" stroke-width="0.12">8</text>
<line x1="287.8" y1="626.25" x2="290.8" y2="626.25" stroke="#111" stroke-width="1"/>
<text x="285" y="628.85" font-size="7.2" text-anchor="end" fill="#222" stroke="#222" stroke-width="0.12">4</text>
<line x1="287.8" y1="641.25" x2="290.8" y2="641.25" stroke="#111" stroke-width="1"/>
<text x="285" y="643.85" font-size="7.2" text-anchor="end" fill="#222" stroke="#222" stroke-width="0.12">2</text>
<line x1="287.8" y1="656.25" x2="290.8" y2="656.25" stroke="#111" stroke-width="1"/>
<text x="285" y="658.85" font-size="7.2" text-anchor="end" fill="#222" stroke="#222" stroke-width="0.12">1</text>
<line x1="308.9" y1="656.2" x2="308.9" y2="659.2" stroke="#111" stroke-width="1"/>
<line x1="360.5" y1="656.2" x2="360.5" y2="659.2" stroke="#111" stroke-width="1"/>
<text x="288.8" y="667.3" font-size="7.3" fill="#111" textLength="41.2" lengthAdjust="spacingAndGlyphs" stroke="#111" stroke-width="0.12"><tspan font-style="italic">HMGA2</tspan><tspan> null</tspan></text>
<text x="338.8" y="667.3" font-size="7.3" fill="#111" textLength="43.7" lengthAdjust="spacingAndGlyphs" stroke="#111" stroke-width="0.12"><tspan font-style="italic">HMGA2</tspan><tspan> high</tspan></text>
<text x="270" y="617.3" font-size="9.3" text-anchor="middle" fill="#111" textLength="17" lengthAdjust="spacingAndGlyphs" transform="rotate(-90 270 617.3)" stroke="#111" stroke-width="0.4">RPKM</text>
<circle cx="298.31" cy="606.1" r="1.5" fill="#000"/>
<circle cx="299.83" cy="606.94" r="1.5" fill="#000"/>
<circle cx="301.35" cy="607.69" r="1.5" fill="#000"/>
<circle cx="302.87" cy="608.37" r="1.5" fill="#000"/>
<circle cx="304.39" cy="608.96" r="1.5" fill="#000"/>
<circle cx="305.91" cy="609.48" r="1.5" fill="#000"/>
<circle cx="307.43" cy="609.91" r="1.5" fill="#000"/>
<circle cx="308.95" cy="610.24" r="1.5" fill="#000"/>
<circle cx="310.47" cy="609.94" r="1.5" fill="#000"/>
<circle cx="311.99" cy="609.55" r="1.5" fill="#000"/>
<circle cx="313.51" cy="609.09" r="1.5" fill="#000"/>
<circle cx="315.03" cy="608.54" r="1.5" fill="#000"/>
<circle cx="316.55" cy="607.91" r="1.5" fill="#000"/>
<circle cx="318.07" cy="607.2" r="1.5" fill="#000"/>
<circle cx="319.6" cy="606.41" r="1.5" fill="#000"/>
<circle cx="298.31" cy="611.81" r="1.5" fill="#000"/>
<circle cx="299.83" cy="612.44" r="1.5" fill="#000"/>
<circle cx="301.35" cy="613.02" r="1.5" fill="#000"/>
<circle cx="302.87" cy="613.53" r="1.5" fill="#000"/>
<circle cx="304.39" cy="613.97" r="1.5" fill="#000"/>
<circle cx="305.91" cy="614.36" r="1.5" fill="#000"/>
<circle cx="307.43" cy="614.67" r="1.5" fill="#000"/>
<circle cx="308.95" cy="614.91" r="1.5" fill="#000"/>
<circle cx="310.47" cy="614.66" r="1.5" fill="#000"/>
<circle cx="311.99" cy="614.34" r="1.5" fill="#000"/>
<circle cx="313.51" cy="613.96" r="1.5" fill="#000"/>
<circle cx="315.03" cy="613.52" r="1.5" fill="#000"/>
<circle cx="316.55" cy="613.01" r="1.5" fill="#000"/>
<circle cx="318.07" cy="612.44" r="1.5" fill="#000"/>
<circle cx="319.6" cy="611.81" r="1.5" fill="#000"/>
<circle cx="298.31" cy="617.21" r="1.5" fill="#000"/>
<circle cx="299.83" cy="617.48" r="1.5" fill="#000"/>
<circle cx="301.35" cy="617.73" r="1.5" fill="#000"/>
<circle cx="302.87" cy="617.95" r="1.5" fill="#000"/>
<circle cx="304.39" cy="618.15" r="1.5" fill="#000"/>
<circle cx="305.91" cy="618.31" r="1.5" fill="#000"/>
<circle cx="307.43" cy="618.45" r="1.5" fill="#000"/>
<circle cx="308.95" cy="618.55" r="1.5" fill="#000"/>
<circle cx="310.47" cy="618.44" r="1.5" fill="#000"/>
<circle cx="311.99" cy="618.31" r="1.5" fill="#000"/>
<circle cx="313.51" cy="618.14" r="1.5" fill="#000"/>
<circle cx="315.03" cy="617.95" r="1.5" fill="#000"/>
<circle cx="316.55" cy="617.73" r="1.5" fill="#000"/>
<circle cx="318.07" cy="617.48" r="1.5" fill="#000"/>
<circle cx="319.6" cy="617.21" r="1.5" fill="#000"/>
<circle cx="298.31" cy="622.19" r="1.5" fill="#000"/>
<circle cx="299.83" cy="622.63" r="1.5" fill="#000"/>
<circle cx="301.35" cy="623.02" r="1.5" fill="#000"/>
<circle cx="302.87" cy="623.37" r="1.5" fill="#000"/>
<circle cx="304.39" cy="623.67" r="1.5" fill="#000"/>
<circle cx="305.91" cy="623.92" r="1.5" fill="#000"/>
<circle cx="307.43" cy="624.12" r="1.5" fill="#000"/>
<circle cx="308.95" cy="624.26" r="1.5" fill="#000"/>
<circle cx="310.47" cy="624.03" r="1.5" fill="#000"/>
<circle cx="311.99" cy="623.76" r="1.5" fill="#000"/>
<circle cx="313.51" cy="623.44" r="1.5" fill="#000"/>
<circle cx="315.03" cy="623.07" r="1.5" fill="#000"/>
<circle cx="316.55" cy="622.65" r="1.5" fill="#000"/>
<circle cx="318.07" cy="622.18" r="1.5" fill="#000"/>
<circle cx="319.6" cy="621.67" r="1.5" fill="#000"/>
<circle cx="311.29" cy="598.31" r="1.6" fill="#000"/>
<circle cx="306.61" cy="600.59" r="1.6" fill="#000"/>
<circle cx="302.25" cy="602.98" r="1.6" fill="#000"/>
<circle cx="315.44" cy="603.29" r="1.6" fill="#000"/>
<circle cx="306.61" cy="605.37" r="1.6" fill="#000"/>
<circle cx="311.29" cy="605.78" r="1.6" fill="#000"/>
<circle cx="298.83" cy="625.83" r="1.6" fill="#000"/>
<circle cx="302.46" cy="626.55" r="1.6" fill="#000"/>
<circle cx="305.58" cy="628.21" r="1.6" fill="#000"/>
<circle cx="308.69" cy="629.98" r="1.6" fill="#000"/>
<circle cx="312.33" cy="628.42" r="1.6" fill="#000"/>
<circle cx="315.44" cy="627.9" r="1.6" fill="#000"/>
<circle cx="318.87" cy="626.14" r="1.6" fill="#000"/>
<circle cx="306.61" cy="631.74" r="1.6" fill="#000"/>
<circle cx="313.36" cy="632.78" r="1.6" fill="#000"/>
<circle cx="317.83" cy="631.33" r="1.6" fill="#000"/>
<circle cx="302.25" cy="634.86" r="1.6" fill="#000"/>
<circle cx="308.9" cy="635.17" r="1.6" fill="#000"/>
<circle cx="304.54" cy="637.56" r="1.6" fill="#000"/>
<circle cx="308.9" cy="640.88" r="1.6" fill="#000"/>
<circle cx="313.36" cy="640.67" r="1.6" fill="#000"/>
<circle cx="308.9" cy="612.2" r="1.6" fill="#000"/>
<circle cx="308.9" cy="619.8" r="1.6" fill="#000"/>
<circle cx="308.9" cy="623" r="1.6" fill="#000"/>
<circle cx="306.8" cy="624.8" r="1.6" fill="#000"/>
<circle cx="311" cy="624.8" r="1.6" fill="#000"/>
<circle cx="360.5" cy="586.8" r="1.6" fill="#000"/>
<circle cx="356.3" cy="596" r="1.6" fill="#000"/>
<circle cx="365.3" cy="596" r="1.6" fill="#000"/>
<circle cx="360.5" cy="598.8" r="1.6" fill="#000"/>
<circle cx="362.9" cy="601.7" r="1.6" fill="#000"/>
<circle cx="358.4" cy="604.3" r="1.6" fill="#000"/>
<circle cx="350.7" cy="607.3" r="1.6" fill="#000"/>
<circle cx="354" cy="607.9" r="1.6" fill="#000"/>
<circle cx="357.6" cy="608.8" r="1.6" fill="#000"/>
<circle cx="360.8" cy="609.1" r="1.6" fill="#000"/>
<circle cx="364" cy="608.5" r="1.6" fill="#000"/>
<circle cx="367.3" cy="607.5" r="1.6" fill="#000"/>
<circle cx="370.6" cy="606.5" r="1.6" fill="#000"/>
<circle cx="350.4" cy="610.9" r="1.6" fill="#000"/>
<circle cx="354.5" cy="612" r="1.6" fill="#000"/>
<circle cx="358.4" cy="613.8" r="1.6" fill="#000"/>
<circle cx="362.8" cy="612.6" r="1.6" fill="#000"/>
<circle cx="366.7" cy="611.8" r="1.6" fill="#000"/>
<circle cx="370.9" cy="610" r="1.6" fill="#000"/>
<circle cx="351.6" cy="621.8" r="1.6" fill="#000"/>
<circle cx="356" cy="623.7" r="1.6" fill="#000"/>
<circle cx="360.5" cy="626.1" r="1.6" fill="#000"/>
<circle cx="365.2" cy="624.3" r="1.6" fill="#000"/>
<circle cx="369.7" cy="622.7" r="1.6" fill="#000"/>
<circle cx="356" cy="634.6" r="1.6" fill="#000"/>
<circle cx="360.5" cy="634.6" r="1.6" fill="#000"/>
<circle cx="365.3" cy="634.4" r="1.6" fill="#000"/>
<circle cx="363.1" cy="637.6" r="1.6" fill="#000"/>
<circle cx="358.4" cy="640.9" r="1.6" fill="#000"/>
<circle cx="351.28" cy="617.03" r="1.6" fill="#000"/>
<circle cx="353.65" cy="617.74" r="1.6" fill="#000"/>
<circle cx="356.02" cy="618.22" r="1.6" fill="#000"/>
<circle cx="358.4" cy="618.93" r="1.6" fill="#000"/>
<circle cx="360.53" cy="619.41" r="1.6" fill="#000"/>
<circle cx="362.79" cy="618.93" r="1.6" fill="#000"/>
<circle cx="365.16" cy="618.22" r="1.6" fill="#000"/>
<circle cx="367.54" cy="617.74" r="1.6" fill="#000"/>
<circle cx="369.67" cy="617.39" r="1.6" fill="#000"/>
<circle cx="358.99" cy="617.74" r="1.6" fill="#000"/>
<circle cx="361.96" cy="617.74" r="1.6" fill="#000"/>
<line x1="297" y1="616.3" x2="321" y2="616.3" stroke="#c4142f" stroke-width="1.3"/>
<line x1="348.5" y1="615.5" x2="372.6" y2="615.5" stroke="#c4142f" stroke-width="1.3"/>
<text x="451.2" y="565" font-size="8.8" fill="#111" font-style="italic" textLength="30.5" lengthAdjust="spacingAndGlyphs" stroke="#111" stroke-width="0.12">CHEK2</text>
<text x="463" y="576.9" font-size="7.3" fill="#222" textLength="7.5" lengthAdjust="spacingAndGlyphs" stroke="#222" stroke-width="0.12">ns</text>
<line x1="439.8" y1="579.6" x2="492.9" y2="579.6" stroke="#555" stroke-width="1.3"/>
<line x1="423.2" y1="577" x2="423.2" y2="656.8" stroke="#111" stroke-width="1.1"/>
<line x1="422.7" y1="656.4" x2="509.9" y2="656.4" stroke="#111" stroke-width="1.1"/>
<line x1="420.2" y1="581.7" x2="423.2" y2="581.7" stroke="#111" stroke-width="1"/>
<text x="417.3" y="584.3" font-size="7.2" text-anchor="end" fill="#222" stroke="#222" stroke-width="0.12">32</text>
<line x1="420.2" y1="594.15" x2="423.2" y2="594.15" stroke="#111" stroke-width="1"/>
<text x="417.3" y="596.75" font-size="7.2" text-anchor="end" fill="#222" stroke="#222" stroke-width="0.12">16</text>
<line x1="420.2" y1="606.6" x2="423.2" y2="606.6" stroke="#111" stroke-width="1"/>
<text x="417.3" y="609.2" font-size="7.2" text-anchor="end" fill="#222" stroke="#222" stroke-width="0.12">8</text>
<line x1="420.2" y1="619.05" x2="423.2" y2="619.05" stroke="#111" stroke-width="1"/>
<text x="417.3" y="621.65" font-size="7.2" text-anchor="end" fill="#222" stroke="#222" stroke-width="0.12">4</text>
<line x1="420.2" y1="631.5" x2="423.2" y2="631.5" stroke="#111" stroke-width="1"/>
<text x="417.3" y="634.1" font-size="7.2" text-anchor="end" fill="#222" stroke="#222" stroke-width="0.12">2</text>
<line x1="420.2" y1="643.95" x2="423.2" y2="643.95" stroke="#111" stroke-width="1"/>
<text x="417.3" y="646.55" font-size="7.2" text-anchor="end" fill="#222" stroke="#222" stroke-width="0.12">1</text>
<line x1="420.2" y1="656.4" x2="423.2" y2="656.4" stroke="#111" stroke-width="1"/>
<text x="417.3" y="659" font-size="7.2" text-anchor="end" fill="#222" stroke="#222" stroke-width="0.12">0.5</text>
<line x1="441.3" y1="656.2" x2="441.3" y2="659.2" stroke="#111" stroke-width="1"/>
<line x1="491.9" y1="656.2" x2="491.9" y2="659.2" stroke="#111" stroke-width="1"/>
<text x="420.8" y="667.3" font-size="7.3" fill="#111" textLength="41.6" lengthAdjust="spacingAndGlyphs" stroke="#111" stroke-width="0.12"><tspan font-style="italic">HMGA2</tspan><tspan> null</tspan></text>
<text x="470.2" y="667.3" font-size="7.3" fill="#111" textLength="44.1" lengthAdjust="spacingAndGlyphs" stroke="#111" stroke-width="0.12"><tspan font-style="italic">HMGA2</tspan><tspan> high</tspan></text>
<text x="401.5" y="617.3" font-size="9.3" text-anchor="middle" fill="#111" textLength="17" lengthAdjust="spacingAndGlyphs" transform="rotate(-90 401.5 617.3)" stroke="#111" stroke-width="0.4">RPKM</text>
<circle cx="431.42" cy="606.81" r="1.5" fill="#000"/>
<circle cx="432.94" cy="606.93" r="1.5" fill="#000"/>
<circle cx="434.46" cy="607.03" r="1.5" fill="#000"/>
<circle cx="435.98" cy="607.12" r="1.5" fill="#000"/>
<circle cx="437.49" cy="607.2" r="1.5" fill="#000"/>
<circle cx="439.01" cy="607.26" r="1.5" fill="#000"/>
<circle cx="440.53" cy="607.31" r="1.5" fill="#000"/>
<circle cx="442.05" cy="607.29" r="1.5" fill="#000"/>
<circle cx="443.56" cy="607.21" r="1.5" fill="#000"/>
<circle cx="445.08" cy="607.12" r="1.5" fill="#000"/>
<circle cx="446.6" cy="607.01" r="1.5" fill="#000"/>
<circle cx="448.12" cy="606.89" r="1.5" fill="#000"/>
<circle cx="449.63" cy="606.75" r="1.5" fill="#000"/>
<circle cx="451.15" cy="606.6" r="1.5" fill="#000"/>
<circle cx="431.94" cy="611.48" r="1.5" fill="#000"/>
<circle cx="433.5" cy="611.84" r="1.5" fill="#000"/>
<circle cx="435.06" cy="612.15" r="1.5" fill="#000"/>
<circle cx="436.61" cy="612.43" r="1.5" fill="#000"/>
<circle cx="438.17" cy="612.67" r="1.5" fill="#000"/>
<circle cx="439.73" cy="612.88" r="1.5" fill="#000"/>
<circle cx="441.29" cy="613.04" r="1.5" fill="#000"/>
<circle cx="442.85" cy="612.93" r="1.5" fill="#000"/>
<circle cx="444.4" cy="612.78" r="1.5" fill="#000"/>
<circle cx="445.96" cy="612.59" r="1.5" fill="#000"/>
<circle cx="447.52" cy="612.36" r="1.5" fill="#000"/>
<circle cx="449.08" cy="612.1" r="1.5" fill="#000"/>
<circle cx="450.63" cy="611.79" r="1.5" fill="#000"/>
<circle cx="438.9" cy="595.9" r="1.6" fill="#000"/>
<circle cx="443.68" cy="596.21" r="1.6" fill="#000"/>
<circle cx="431.73" cy="597.77" r="1.6" fill="#000"/>
<circle cx="435.06" cy="598.5" r="1.6" fill="#000"/>
<circle cx="450.63" cy="598.29" r="1.6" fill="#000"/>
<circle cx="438.17" cy="600.58" r="1.6" fill="#000"/>
<circle cx="441.29" cy="601.1" r="1.6" fill="#000"/>
<circle cx="444.71" cy="600.78" r="1.6" fill="#000"/>
<circle cx="447.52" cy="600.37" r="1.6" fill="#000"/>
<circle cx="432.25" cy="603.17" r="1.6" fill="#000"/>
<circle cx="435.58" cy="603.69" r="1.6" fill="#000"/>
<circle cx="441.29" cy="604.21" r="1.6" fill="#000"/>
<circle cx="446.79" cy="603.69" r="1.6" fill="#000"/>
<circle cx="450.11" cy="603.17" r="1.6" fill="#000"/>
<circle cx="435.58" cy="614.6" r="1.6" fill="#000"/>
<circle cx="439.73" cy="615.11" r="1.6" fill="#000"/>
<circle cx="442.85" cy="615.11" r="1.6" fill="#000"/>
<circle cx="446.48" cy="614.91" r="1.6" fill="#000"/>
<circle cx="433.5" cy="618.02" r="1.6" fill="#000"/>
<circle cx="436.61" cy="619.48" r="1.6" fill="#000"/>
<circle cx="439.73" cy="620.31" r="1.6" fill="#000"/>
<circle cx="442.85" cy="619.79" r="1.6" fill="#000"/>
<circle cx="445.96" cy="618.44" r="1.6" fill="#000"/>
<circle cx="448.87" cy="617.5" r="1.6" fill="#000"/>
<circle cx="432.25" cy="622.59" r="1.6" fill="#000"/>
<circle cx="436.61" cy="624.46" r="1.6" fill="#000"/>
<circle cx="441.29" cy="625.29" r="1.6" fill="#000"/>
<circle cx="445.75" cy="624.25" r="1.6" fill="#000"/>
<circle cx="450.32" cy="621.34" r="1.6" fill="#000"/>
<circle cx="447.83" cy="626.23" r="1.6" fill="#000"/>
<circle cx="434.33" cy="627.37" r="1.6" fill="#000"/>
<circle cx="438.9" cy="630.17" r="1.6" fill="#000"/>
<circle cx="443.68" cy="629.44" r="1.6" fill="#000"/>
<circle cx="441.29" cy="636.92" r="1.6" fill="#000"/>
<circle cx="443.68" cy="639.52" r="1.6" fill="#000"/>
<circle cx="438.9" cy="642.32" r="1.6" fill="#000"/>
<circle cx="440.25" cy="605.77" r="1.6" fill="#000"/>
<circle cx="443.36" cy="605.25" r="1.6" fill="#000"/>
<circle cx="445.96" cy="605.77" r="1.6" fill="#000"/>
<circle cx="438.69" cy="602.45" r="1.6" fill="#000"/>
<circle cx="443.88" cy="602.45" r="1.6" fill="#000"/>
<circle cx="439.73" cy="616.15" r="1.6" fill="#000"/>
<circle cx="443.36" cy="616.67" r="1.6" fill="#000"/>
<circle cx="441.29" cy="618.02" r="1.6" fill="#000"/>
<circle cx="444.92" cy="617.71" r="1.6" fill="#000"/>
<circle cx="438.17" cy="617.4" r="1.6" fill="#000"/>
<circle cx="489.8" cy="588.55" r="1.6" fill="#000"/>
<circle cx="494.2" cy="592.46" r="1.6" fill="#000"/>
<circle cx="498.71" cy="595.19" r="1.6" fill="#000"/>
<circle cx="485.06" cy="598.04" r="1.6" fill="#000"/>
<circle cx="489.8" cy="599.23" r="1.6" fill="#000"/>
<circle cx="494.2" cy="598.4" r="1.6" fill="#000"/>
<circle cx="501.44" cy="599.58" r="1.6" fill="#000"/>
<circle cx="482.45" cy="601.01" r="1.6" fill="#000"/>
<circle cx="486.01" cy="601.96" r="1.6" fill="#000"/>
<circle cx="497.88" cy="601.72" r="1.6" fill="#000"/>
<circle cx="489.57" cy="603.5" r="1.6" fill="#000"/>
<circle cx="491.94" cy="604.09" r="1.6" fill="#000"/>
<circle cx="495.15" cy="603.15" r="1.6" fill="#000"/>
<circle cx="491.94" cy="618.93" r="1.6" fill="#000"/>
<circle cx="499.06" cy="618.22" r="1.6" fill="#000"/>
<circle cx="487.43" cy="621.78" r="1.6" fill="#000"/>
<circle cx="496.57" cy="621.78" r="1.6" fill="#000"/>
<circle cx="491.94" cy="625.34" r="1.6" fill="#000"/>
<circle cx="489.57" cy="632.46" r="1.6" fill="#000"/>
<circle cx="494.2" cy="631.87" r="1.6" fill="#000"/>
<circle cx="491.94" cy="637.57" r="1.6" fill="#000"/>
<circle cx="491.94" cy="647.89" r="1.6" fill="#000"/>
<circle cx="482.4" cy="604.9" r="1.6" fill="#000"/>
<circle cx="485.1" cy="605.2" r="1.6" fill="#000"/>
<circle cx="487.4" cy="605.5" r="1.6" fill="#000"/>
<circle cx="489.8" cy="606.1" r="1.6" fill="#000"/>
<circle cx="491.9" cy="607.1" r="1.6" fill="#000"/>
<circle cx="494.6" cy="606.1" r="1.6" fill="#000"/>
<circle cx="497.2" cy="605.5" r="1.6" fill="#000"/>
<circle cx="499.5" cy="605.2" r="1.6" fill="#000"/>
<circle cx="501.9" cy="604.9" r="1.6" fill="#000"/>
<circle cx="491.9" cy="608.6" r="1.6" fill="#000"/>
<circle cx="489.6" cy="608.3" r="1.6" fill="#000"/>
<circle cx="494.2" cy="608.3" r="1.6" fill="#000"/>
<circle cx="482.4" cy="612.3" r="1.6" fill="#000"/>
<circle cx="484.8" cy="613" r="1.6" fill="#000"/>
<circle cx="487.4" cy="615" r="1.6" fill="#000"/>
<circle cx="489.8" cy="614.2" r="1.6" fill="#000"/>
<circle cx="491.9" cy="613.8" r="1.6" fill="#000"/>
<circle cx="494.6" cy="613.5" r="1.6" fill="#000"/>
<circle cx="497.2" cy="613" r="1.6" fill="#000"/>
<circle cx="499.5" cy="612.3" r="1.6" fill="#000"/>
<circle cx="501.7" cy="612" r="1.6" fill="#000"/>
<line x1="429.3" y1="609" x2="453" y2="609" stroke="#c4142f" stroke-width="1.3"/>
<line x1="480.3" y1="607.8" x2="503.8" y2="607.8" stroke="#c4142f" stroke-width="1.3"/>
<path d="M0 0H520V674H0Z M1.25 1.2V672.6H518.8V1.2Z" fill="#000" fill-rule="evenodd"/>
</svg>
</body></html>
